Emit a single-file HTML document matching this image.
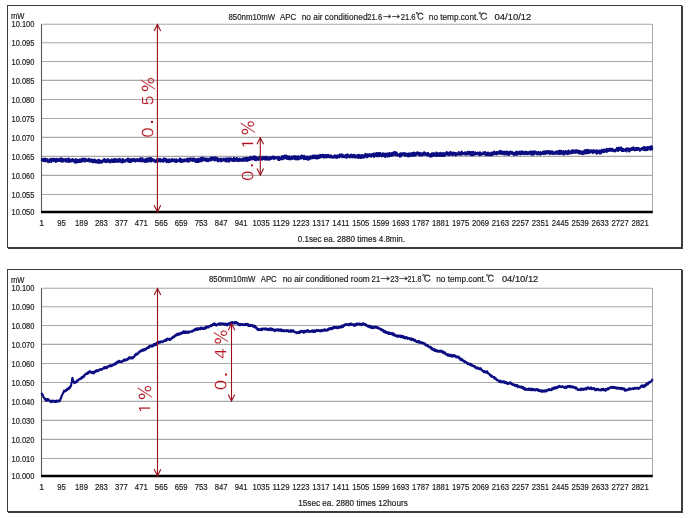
<!DOCTYPE html>
<html><head><meta charset="utf-8"><title>850nm10mW APC</title><style>
html,body{margin:0;padding:0;background:#fff;}
body{width:689px;height:518px;overflow:hidden;}
svg{display:block;}
text{font-family:"Liberation Sans","IPAGothic","Noto Sans CJK JP",sans-serif;fill:#222;stroke:#222;stroke-width:0.18px;}
tspan.j{font-family:"IPAGothic","Noto Sans CJK JP",sans-serif;font-size:9.5px;}
text.r{font-family:"IPAGothic","Noto Sans CJK JP",sans-serif;fill:#b3121f;stroke:#fff;stroke-width:0.12px;}
</style></head><body>
<svg width="689" height="518" viewBox="0 0 689 518">
<rect width="689" height="518" fill="#fff"/>
<rect x="7.5" y="5.5" width="674" height="242" fill="#fff" stroke="#3c3c3c" stroke-width="1"/>
<line x1="682.5" y1="6.0" x2="682.5" y2="249.0" stroke="#3c3c3c" stroke-width="1"/>
<line x1="8" y1="248.5" x2="683" y2="248.5" stroke="#3c3c3c" stroke-width="1"/>
<line x1="41.5" y1="24.20" x2="652.5" y2="24.20" stroke="#a9a9a9" stroke-width="1.1"/>
<line x1="41.5" y1="42.80" x2="652.5" y2="42.80" stroke="#a9a9a9" stroke-width="1.1"/>
<line x1="41.5" y1="61.50" x2="652.5" y2="61.50" stroke="#a9a9a9" stroke-width="1.1"/>
<line x1="41.5" y1="80.40" x2="652.5" y2="80.40" stroke="#a9a9a9" stroke-width="1.1"/>
<line x1="41.5" y1="99.50" x2="652.5" y2="99.50" stroke="#a9a9a9" stroke-width="1.1"/>
<line x1="41.5" y1="118.50" x2="652.5" y2="118.50" stroke="#a9a9a9" stroke-width="1.1"/>
<line x1="41.5" y1="137.40" x2="652.5" y2="137.40" stroke="#a9a9a9" stroke-width="1.1"/>
<line x1="41.5" y1="156.40" x2="652.5" y2="156.40" stroke="#a9a9a9" stroke-width="1.1"/>
<line x1="41.5" y1="175.40" x2="652.5" y2="175.40" stroke="#a9a9a9" stroke-width="1.1"/>
<line x1="41.5" y1="194.50" x2="652.5" y2="194.50" stroke="#a9a9a9" stroke-width="1.1"/>
<line x1="652.5" y1="24.20" x2="652.5" y2="212.00" stroke="#a9a9a9" stroke-width="1"/>
<line x1="41.5" y1="24.20" x2="41.5" y2="212.00" stroke="#5a5a5a" stroke-width="1.1"/>
<polyline fill="none" stroke="#0c0c82" stroke-width="2.2" stroke-linejoin="round" points="41.6,160.9 41.8,160.4 42.0,159.5 42.2,159.1 42.5,159.7 42.7,159.4 42.9,160.8 43.1,160.4 43.3,158.9 43.5,159.1 43.7,161.0 43.9,160.1 44.2,159.7 44.4,161.1 44.6,159.7 44.8,159.9 45.0,159.8 45.2,158.7 45.4,161.1 45.6,159.3 45.8,159.9 46.1,159.8 46.3,161.2 46.5,160.5 46.7,160.6 46.9,159.1 47.1,160.5 47.3,159.3 47.5,160.9 47.8,160.9 48.0,160.6 48.2,162.2 48.4,161.0 48.6,161.1 48.8,160.7 49.0,160.3 49.2,161.4 49.5,161.5 49.7,159.3 49.9,161.4 50.1,160.9 50.3,161.3 50.5,160.8 50.7,159.2 50.9,159.3 51.2,162.0 51.4,160.6 51.6,159.1 51.8,160.7 52.0,160.0 52.2,158.8 52.4,158.8 52.6,159.0 52.9,160.7 53.1,160.4 53.3,160.2 53.5,160.7 53.7,161.0 53.9,158.8 54.1,160.2 54.3,159.7 54.5,159.3 54.8,159.9 55.0,160.3 55.2,160.2 55.4,159.1 55.6,159.9 55.8,162.0 56.0,159.4 56.2,158.8 56.5,160.6 56.7,160.8 56.9,160.7 57.1,159.3 57.3,161.2 57.5,159.6 57.7,159.2 57.9,159.7 58.2,160.1 58.4,160.9 58.6,160.8 58.8,160.2 59.0,161.0 59.2,160.2 59.4,160.9 59.6,158.9 59.9,158.7 60.1,160.8 60.3,158.8 60.5,159.8 60.7,160.0 60.9,159.6 61.1,159.6 61.3,161.3 61.5,158.4 61.8,160.8 62.0,161.6 62.2,160.0 62.4,160.0 62.6,160.7 62.8,161.6 63.0,159.0 63.2,160.1 63.5,159.9 63.7,160.6 63.9,160.2 64.1,160.7 64.3,159.7 64.5,160.2 64.7,159.5 64.9,159.6 65.2,160.1 65.4,160.1 65.6,159.2 65.8,161.6 66.0,160.1 66.2,159.0 66.4,161.2 66.6,159.6 66.9,160.7 67.1,160.2 67.3,160.4 67.5,160.4 67.7,159.7 67.9,160.2 68.1,161.8 68.3,158.5 68.5,160.2 68.8,160.5 69.0,159.1 69.2,158.8 69.4,161.7 69.6,159.7 69.8,161.7 70.0,160.5 70.2,160.1 70.5,160.5 70.7,160.6 70.9,161.1 71.1,160.4 71.3,160.2 71.5,160.2 71.7,161.3 71.9,160.8 72.2,159.2 72.4,159.6 72.6,160.5 72.8,159.6 73.0,159.9 73.2,159.4 73.4,160.1 73.6,160.8 73.9,161.3 74.1,160.5 74.3,162.1 74.5,160.5 74.7,162.3 74.9,161.6 75.1,161.2 75.3,160.4 75.6,159.3 75.8,160.8 76.0,161.2 76.2,162.7 76.4,159.8 76.6,162.7 76.8,160.9 77.0,161.8 77.2,159.6 77.5,161.3 77.7,160.9 77.9,161.8 78.1,161.3 78.3,160.1 78.5,162.0 78.7,161.7 78.9,161.6 79.2,161.9 79.4,161.9 79.6,160.8 79.8,159.5 80.0,159.4 80.2,161.8 80.4,161.2 80.6,160.5 80.9,160.0 81.1,160.3 81.3,160.2 81.5,159.8 81.7,159.4 81.9,161.6 82.1,160.2 82.3,159.4 82.6,158.7 82.8,159.2 83.0,160.5 83.2,160.5 83.4,159.7 83.6,159.9 83.8,159.6 84.0,158.9 84.2,161.1 84.5,160.3 84.7,161.6 84.9,159.3 85.1,159.9 85.3,160.9 85.5,159.9 85.7,158.8 85.9,159.2 86.2,160.2 86.4,160.4 86.6,160.0 86.8,161.0 87.0,161.0 87.2,160.4 87.4,160.1 87.6,159.8 87.9,160.6 88.1,160.9 88.3,160.1 88.5,160.5 88.7,159.8 88.9,158.8 89.1,159.2 89.3,160.8 89.6,160.5 89.8,161.6 90.0,160.2 90.2,161.0 90.4,161.4 90.6,161.1 90.8,159.7 91.0,160.2 91.2,160.5 91.5,159.5 91.7,160.9 91.9,161.4 92.1,160.1 92.3,162.2 92.5,160.3 92.7,160.4 92.9,160.4 93.2,160.0 93.4,161.1 93.6,160.7 93.8,162.2 94.0,161.3 94.2,161.3 94.4,160.6 94.6,159.5 94.9,160.7 95.1,160.1 95.3,161.7 95.5,160.8 95.7,162.4 95.9,161.6 96.1,161.7 96.3,161.2 96.6,161.2 96.8,161.6 97.0,161.9 97.2,160.4 97.4,161.5 97.6,162.7 97.8,161.1 98.0,160.9 98.3,160.5 98.5,159.9 98.7,162.3 98.9,161.2 99.1,161.4 99.3,162.8 99.5,162.8 99.7,160.3 99.9,162.1 100.2,161.7 100.4,161.4 100.6,161.5 100.8,161.0 101.0,162.4 101.2,161.5 101.4,161.2 101.6,162.0 101.9,161.7 102.1,161.2 102.3,161.1 102.5,162.4 102.7,161.2 102.9,160.7 103.1,159.9 103.3,160.4 103.6,159.7 103.8,160.8 104.0,160.9 104.2,159.1 104.4,160.7 104.6,161.3 104.8,160.9 105.0,159.9 105.3,161.9 105.5,160.2 105.7,159.7 105.9,159.9 106.1,160.9 106.3,161.8 106.5,162.0 106.7,161.1 106.9,159.9 107.2,160.4 107.4,160.2 107.6,160.9 107.8,159.4 108.0,161.1 108.2,161.6 108.4,160.9 108.6,161.5 108.9,160.2 109.1,159.7 109.3,160.5 109.5,162.1 109.7,162.0 109.9,160.6 110.1,162.1 110.3,160.7 110.6,162.3 110.8,161.4 111.0,160.5 111.2,161.6 111.4,160.2 111.6,160.0 111.8,159.5 112.0,161.0 112.3,160.7 112.5,160.7 112.7,160.3 112.9,162.0 113.1,160.3 113.3,160.0 113.5,161.7 113.7,161.9 114.0,160.9 114.2,159.0 114.4,160.0 114.6,161.1 114.8,160.6 115.0,162.0 115.2,159.3 115.4,161.2 115.6,160.0 115.9,161.7 116.1,160.5 116.3,161.5 116.5,160.0 116.7,159.3 116.9,159.5 117.1,160.0 117.3,159.6 117.6,161.6 117.8,161.7 118.0,160.8 118.2,159.6 118.4,160.4 118.6,159.9 118.8,161.9 119.0,160.8 119.3,161.0 119.5,160.2 119.7,158.9 119.9,159.9 120.1,159.6 120.3,160.9 120.5,160.7 120.7,159.9 121.0,160.3 121.2,162.1 121.4,159.8 121.6,159.9 121.8,160.5 122.0,160.1 122.2,160.4 122.4,161.3 122.6,162.4 122.9,159.2 123.1,160.8 123.3,160.9 123.5,160.8 123.7,160.7 123.9,160.5 124.1,161.7 124.3,160.4 124.6,160.7 124.8,160.8 125.0,160.8 125.2,160.5 125.4,161.6 125.6,160.6 125.8,160.7 126.0,160.5 126.3,159.6 126.5,159.7 126.7,159.5 126.9,160.5 127.1,159.7 127.3,159.3 127.5,160.5 127.7,160.7 128.0,158.6 128.2,161.7 128.4,160.2 128.6,160.1 128.8,161.2 129.0,160.3 129.2,159.7 129.4,161.9 129.6,159.3 129.9,160.2 130.1,161.0 130.3,159.3 130.5,160.2 130.7,160.7 130.9,161.9 131.1,159.5 131.3,160.3 131.6,160.9 131.8,160.4 132.0,159.2 132.2,160.6 132.4,160.3 132.6,160.6 132.8,161.2 133.0,161.0 133.3,160.5 133.5,160.3 133.7,159.0 133.9,159.9 134.1,160.2 134.3,159.6 134.5,160.0 134.7,159.2 135.0,161.3 135.2,161.5 135.4,159.6 135.6,160.3 135.8,159.7 136.0,161.1 136.2,160.3 136.4,160.0 136.7,159.8 136.9,160.1 137.1,159.1 137.3,160.6 137.5,159.4 137.7,160.5 137.9,160.2 138.1,161.1 138.3,160.1 138.6,161.0 138.8,159.3 139.0,160.7 139.2,159.9 139.4,160.3 139.6,160.2 139.8,160.9 140.0,158.5 140.3,160.4 140.5,158.7 140.7,161.1 140.9,158.4 141.1,159.1 141.3,158.5 141.5,161.5 141.7,158.8 142.0,160.1 142.2,159.5 142.4,158.4 142.6,159.7 142.8,160.6 143.0,159.9 143.2,160.9 143.4,159.8 143.7,160.1 143.9,159.8 144.1,160.5 144.3,161.8 144.5,160.6 144.7,160.4 144.9,159.7 145.1,159.6 145.3,161.6 145.6,159.3 145.8,159.5 146.0,160.2 146.2,159.9 146.4,161.9 146.6,158.6 146.8,160.5 147.0,160.8 147.3,159.2 147.5,159.5 147.7,160.5 147.9,161.5 148.1,159.2 148.3,158.6 148.5,160.8 148.7,161.3 149.0,159.6 149.2,158.2 149.4,161.1 149.6,159.6 149.8,160.8 150.0,159.7 150.2,159.4 150.4,159.4 150.7,161.1 150.9,161.1 151.1,158.2 151.3,159.0 151.5,161.4 151.7,159.5 151.9,158.7 152.1,159.9 152.3,159.9 152.6,159.9 152.8,159.6 153.0,159.8 153.2,159.7 153.4,160.5 153.6,159.5 153.8,160.0 154.0,160.2 154.3,161.5 154.5,160.7 154.7,160.3 154.9,160.9 155.1,160.8 155.3,161.4 155.5,160.9 155.7,162.1 156.0,161.7 156.2,160.4 156.4,160.1 156.6,161.3 156.8,160.9 157.0,160.4 157.2,159.2 157.4,158.9 157.7,160.8 157.9,161.2 158.1,161.2 158.3,159.4 158.5,161.5 158.7,160.1 158.9,160.9 159.1,161.0 159.4,159.9 159.6,160.1 159.8,159.0 160.0,159.8 160.2,159.0 160.4,161.0 160.6,160.7 160.8,161.5 161.0,160.9 161.3,160.0 161.5,160.9 161.7,160.2 161.9,161.1 162.1,160.8 162.3,159.6 162.5,160.4 162.7,160.4 163.0,160.1 163.2,161.1 163.4,161.8 163.6,159.9 163.8,159.9 164.0,158.6 164.2,160.0 164.4,159.8 164.7,158.5 164.9,160.4 165.1,160.7 165.3,159.5 165.5,159.9 165.7,159.4 165.9,161.0 166.1,159.0 166.4,160.2 166.6,162.1 166.8,160.6 167.0,161.0 167.2,160.6 167.4,159.7 167.6,160.8 167.8,161.2 168.0,160.0 168.3,161.3 168.5,162.1 168.7,162.0 168.9,159.6 169.1,160.2 169.3,159.6 169.5,162.0 169.7,161.6 170.0,161.7 170.2,160.2 170.4,159.9 170.6,161.0 170.8,161.0 171.0,160.1 171.2,161.0 171.4,161.4 171.7,160.9 171.9,159.7 172.1,159.0 172.3,160.4 172.5,160.7 172.7,160.3 172.9,160.1 173.1,159.9 173.4,161.2 173.6,160.5 173.8,160.6 174.0,159.7 174.2,160.0 174.4,160.7 174.6,159.7 174.8,159.5 175.1,160.3 175.3,161.7 175.5,160.8 175.7,162.0 175.9,160.6 176.1,160.4 176.3,159.4 176.5,160.2 176.7,162.0 177.0,161.0 177.2,161.3 177.4,161.3 177.6,160.6 177.8,160.4 178.0,160.7 178.2,161.1 178.4,160.9 178.7,160.9 178.9,160.5 179.1,159.6 179.3,160.1 179.5,159.4 179.7,161.1 179.9,158.6 180.1,160.0 180.4,161.8 180.6,159.8 180.8,159.1 181.0,160.1 181.2,161.3 181.4,160.0 181.6,160.7 181.8,160.3 182.1,159.9 182.3,161.9 182.5,160.4 182.7,159.9 182.9,160.1 183.1,160.9 183.3,161.0 183.5,161.4 183.7,160.9 184.0,159.5 184.2,161.3 184.4,160.6 184.6,160.6 184.8,159.5 185.0,160.4 185.2,160.2 185.4,160.8 185.7,159.5 185.9,160.9 186.1,160.9 186.3,159.8 186.5,160.2 186.7,159.9 186.9,161.4 187.1,158.9 187.4,160.2 187.6,158.9 187.8,159.9 188.0,161.0 188.2,159.6 188.4,160.2 188.6,159.2 188.8,161.6 189.1,160.7 189.3,160.8 189.5,158.5 189.7,158.7 189.9,160.6 190.1,159.4 190.3,159.3 190.5,159.9 190.7,158.4 191.0,160.3 191.2,159.6 191.4,160.0 191.6,159.0 191.8,160.1 192.0,159.0 192.2,160.6 192.4,160.8 192.7,160.6 192.9,160.3 193.1,160.5 193.3,158.3 193.5,160.7 193.7,159.8 193.9,160.1 194.1,159.9 194.4,158.9 194.6,159.7 194.8,160.8 195.0,161.5 195.2,159.7 195.4,159.5 195.6,161.7 195.8,159.6 196.1,162.0 196.3,160.5 196.5,159.6 196.7,161.3 196.9,161.9 197.1,159.1 197.3,161.8 197.5,160.1 197.8,161.7 198.0,160.0 198.2,158.9 198.4,160.7 198.6,161.0 198.8,161.8 199.0,161.7 199.2,160.7 199.4,159.8 199.7,159.5 199.9,159.7 200.1,159.2 200.3,159.6 200.5,158.2 200.7,159.9 200.9,159.7 201.1,161.3 201.4,160.3 201.6,159.1 201.8,160.0 202.0,158.4 202.2,158.9 202.4,157.7 202.6,160.6 202.8,159.8 203.1,158.2 203.3,159.2 203.5,160.1 203.7,159.7 203.9,159.6 204.1,158.5 204.3,158.7 204.5,159.4 204.8,160.1 205.0,158.6 205.2,158.3 205.4,160.4 205.6,158.6 205.8,160.4 206.0,159.7 206.2,160.2 206.4,161.0 206.7,160.1 206.9,160.2 207.1,158.7 207.3,158.9 207.5,160.1 207.7,160.9 207.9,160.8 208.1,161.2 208.4,159.8 208.6,159.7 208.8,160.5 209.0,159.6 209.2,159.5 209.4,158.6 209.6,160.4 209.8,158.5 210.1,159.9 210.3,158.1 210.5,160.4 210.7,158.4 210.9,160.1 211.1,157.8 211.3,158.8 211.5,160.2 211.8,158.4 212.0,159.2 212.2,158.6 212.4,157.4 212.6,159.3 212.8,159.4 213.0,158.0 213.2,159.5 213.4,158.2 213.7,158.0 213.9,158.9 214.1,158.3 214.3,160.5 214.5,157.5 214.7,159.6 214.9,159.9 215.1,157.4 215.4,157.5 215.6,159.6 215.8,158.7 216.0,159.5 216.2,160.3 216.4,159.0 216.6,158.4 216.8,157.8 217.1,159.7 217.3,158.7 217.5,159.9 217.7,159.9 217.9,158.5 218.1,161.3 218.3,160.8 218.5,160.7 218.8,158.9 219.0,159.6 219.2,159.5 219.4,159.7 219.6,159.1 219.8,160.5 220.0,160.4 220.2,160.5 220.5,159.7 220.7,161.4 220.9,160.4 221.1,158.6 221.3,159.6 221.5,160.1 221.7,161.0 221.9,159.9 222.1,159.9 222.4,159.5 222.6,160.7 222.8,159.7 223.0,159.5 223.2,159.4 223.4,160.5 223.6,159.5 223.8,158.5 224.1,160.5 224.3,159.3 224.5,160.3 224.7,160.3 224.9,161.0 225.1,160.9 225.3,159.4 225.5,159.8 225.8,158.8 226.0,161.4 226.2,160.3 226.4,161.2 226.6,159.7 226.8,158.3 227.0,161.4 227.2,160.1 227.5,160.1 227.7,160.1 227.9,160.6 228.1,160.5 228.3,158.6 228.5,161.0 228.7,159.6 228.9,159.6 229.1,161.6 229.4,160.8 229.6,159.7 229.8,158.3 230.0,160.0 230.2,160.3 230.4,159.8 230.6,158.7 230.8,159.0 231.1,158.6 231.3,159.9 231.5,160.4 231.7,160.5 231.9,158.9 232.1,159.7 232.3,160.0 232.5,159.0 232.8,159.3 233.0,161.0 233.2,159.6 233.4,160.2 233.6,159.0 233.8,159.4 234.0,157.8 234.2,159.3 234.5,160.4 234.7,161.0 234.9,160.5 235.1,160.0 235.3,159.5 235.5,158.9 235.7,159.3 235.9,160.1 236.2,158.8 236.4,160.4 236.6,158.7 236.8,158.0 237.0,158.8 237.2,158.2 237.4,158.5 237.6,160.8 237.8,159.6 238.1,160.0 238.3,160.9 238.5,161.0 238.7,159.4 238.9,161.1 239.1,160.2 239.3,159.9 239.5,160.3 239.8,158.6 240.0,159.1 240.2,159.7 240.4,160.3 240.6,159.4 240.8,159.5 241.0,160.5 241.2,160.8 241.5,160.2 241.7,160.6 241.9,159.0 242.1,159.1 242.3,159.6 242.5,159.0 242.7,158.7 242.9,160.6 243.2,158.9 243.4,158.2 243.6,159.5 243.8,160.7 244.0,159.1 244.2,160.1 244.4,158.6 244.6,158.6 244.8,158.4 245.1,158.9 245.3,160.7 245.5,158.0 245.7,160.6 245.9,158.2 246.1,159.0 246.3,159.9 246.5,159.8 246.8,159.5 247.0,157.8 247.2,159.6 247.4,158.4 247.6,160.9 247.8,159.1 248.0,159.4 248.2,158.2 248.5,158.8 248.7,158.0 248.9,160.0 249.1,158.8 249.3,159.5 249.5,158.3 249.7,158.4 249.9,159.9 250.2,157.8 250.4,156.9 250.6,158.8 250.8,157.4 251.0,157.9 251.2,159.1 251.4,157.5 251.6,158.9 251.8,157.5 252.1,159.4 252.3,159.2 252.5,157.6 252.7,157.8 252.9,157.2 253.1,158.1 253.3,159.0 253.5,156.7 253.8,158.8 254.0,156.9 254.2,157.3 254.4,156.5 254.6,159.8 254.8,158.3 255.0,158.5 255.2,157.7 255.5,159.4 255.7,156.8 255.9,158.5 256.1,160.2 256.3,158.2 256.5,158.6 256.7,159.3 256.9,157.9 257.2,158.7 257.4,159.5 257.6,158.9 257.8,159.0 258.0,158.3 258.2,158.9 258.4,158.6 258.6,159.9 258.9,159.2 259.1,158.3 259.3,156.8 259.5,159.1 259.7,159.1 259.9,157.6 260.1,156.7 260.3,157.3 260.5,159.2 260.8,157.3 261.0,157.9 261.2,158.5 261.4,159.3 261.6,158.2 261.8,158.1 262.0,157.7 262.2,159.6 262.5,159.1 262.7,158.0 262.9,156.9 263.1,157.4 263.3,158.6 263.5,157.4 263.7,158.8 263.9,158.3 264.2,158.3 264.4,158.6 264.6,158.4 264.8,157.2 265.0,157.7 265.2,159.6 265.4,156.9 265.6,157.6 265.9,159.0 266.1,157.9 266.3,157.4 266.5,157.0 266.7,158.7 266.9,159.1 267.1,159.5 267.3,158.3 267.5,159.3 267.8,157.4 268.0,158.5 268.2,157.8 268.4,158.6 268.6,159.1 268.8,159.5 269.0,157.6 269.2,159.7 269.5,158.1 269.7,157.6 269.9,158.4 270.1,157.3 270.3,158.6 270.5,158.8 270.7,158.4 270.9,159.0 271.2,158.2 271.4,158.5 271.6,157.1 271.8,158.4 272.0,157.6 272.2,157.9 272.4,158.2 272.6,158.4 272.9,156.7 273.1,156.7 273.3,157.8 273.5,158.5 273.7,158.3 273.9,158.7 274.1,159.1 274.3,158.3 274.5,157.8 274.8,156.9 275.0,157.0 275.2,157.4 275.4,158.1 275.6,158.0 275.8,157.9 276.0,157.7 276.2,158.4 276.5,158.1 276.7,158.2 276.9,158.2 277.1,157.5 277.3,157.1 277.5,158.5 277.7,158.4 277.9,157.9 278.2,157.7 278.4,159.8 278.6,157.5 278.8,158.0 279.0,158.5 279.2,157.2 279.4,158.4 279.6,159.9 279.9,159.1 280.1,158.8 280.3,158.8 280.5,158.3 280.7,159.1 280.9,158.0 281.1,157.7 281.3,158.1 281.6,158.8 281.8,158.2 282.0,158.5 282.2,156.2 282.4,158.8 282.6,159.3 282.8,158.8 283.0,157.2 283.2,156.7 283.5,157.6 283.7,156.4 283.9,157.9 284.1,156.7 284.3,158.0 284.5,158.3 284.7,155.5 284.9,157.3 285.2,156.4 285.4,155.8 285.6,156.5 285.8,156.9 286.0,158.0 286.2,155.7 286.4,158.1 286.6,158.8 286.9,157.8 287.1,157.8 287.3,157.3 287.5,156.3 287.7,157.9 287.9,157.8 288.1,158.1 288.3,159.1 288.6,158.2 288.8,158.0 289.0,159.0 289.2,156.4 289.4,156.6 289.6,157.4 289.8,157.1 290.0,158.3 290.2,157.4 290.5,159.3 290.7,159.1 290.9,158.4 291.1,157.3 291.3,158.2 291.5,158.4 291.7,156.7 291.9,157.9 292.2,158.2 292.4,157.7 292.6,158.9 292.8,158.6 293.0,156.7 293.2,157.5 293.4,156.7 293.6,157.9 293.9,156.6 294.1,158.3 294.3,157.8 294.5,158.3 294.7,157.4 294.9,156.2 295.1,159.1 295.3,157.4 295.6,158.8 295.8,158.0 296.0,158.3 296.2,159.3 296.4,158.1 296.6,159.0 296.8,156.5 297.0,158.6 297.3,157.6 297.5,157.7 297.7,157.9 297.9,158.2 298.1,159.4 298.3,156.3 298.5,157.9 298.7,157.2 298.9,158.9 299.2,157.4 299.4,158.2 299.6,157.4 299.8,158.3 300.0,158.6 300.2,157.3 300.4,157.6 300.6,156.3 300.9,157.8 301.1,158.2 301.3,156.9 301.5,158.4 301.7,155.7 301.9,155.7 302.1,156.1 302.3,156.9 302.6,157.3 302.8,157.2 303.0,157.3 303.2,158.0 303.4,156.9 303.6,156.2 303.8,156.3 304.0,159.1 304.3,155.9 304.5,157.4 304.7,158.9 304.9,158.0 305.1,156.9 305.3,157.7 305.5,158.5 305.7,158.9 305.9,157.0 306.2,158.5 306.4,158.1 306.6,158.9 306.8,159.2 307.0,157.6 307.2,156.6 307.4,158.3 307.6,159.5 307.9,158.6 308.1,158.2 308.3,159.6 308.5,157.0 308.7,158.7 308.9,157.4 309.1,157.9 309.3,157.9 309.6,159.2 309.8,156.9 310.0,157.3 310.2,156.3 310.4,158.1 310.6,157.2 310.8,158.0 311.0,156.6 311.3,157.2 311.5,158.4 311.7,157.3 311.9,157.9 312.1,157.8 312.3,157.0 312.5,155.9 312.7,158.1 312.9,157.4 313.2,158.1 313.4,155.5 313.6,155.6 313.8,155.5 314.0,156.3 314.2,158.0 314.4,157.6 314.6,157.1 314.9,157.2 315.1,157.8 315.3,156.9 315.5,157.5 315.7,157.3 315.9,155.6 316.1,156.9 316.3,158.5 316.6,156.9 316.8,157.2 317.0,156.8 317.2,156.9 317.4,158.4 317.6,157.1 317.8,156.4 318.0,155.7 318.3,156.8 318.5,155.6 318.7,155.6 318.9,157.9 319.1,157.7 319.3,155.4 319.5,157.7 319.7,157.3 320.0,156.1 320.2,157.4 320.4,155.2 320.6,155.5 320.8,155.2 321.0,155.4 321.2,157.2 321.4,155.1 321.6,155.2 321.9,155.3 322.1,156.3 322.3,155.8 322.5,156.8 322.7,155.4 322.9,154.8 323.1,155.5 323.3,156.0 323.6,155.1 323.8,156.2 324.0,157.6 324.2,155.5 324.4,156.0 324.6,157.2 324.8,155.5 325.0,155.3 325.3,155.1 325.5,156.5 325.7,156.6 325.9,156.0 326.1,156.2 326.3,157.4 326.5,157.0 326.7,155.0 327.0,156.3 327.2,156.4 327.4,157.0 327.6,156.2 327.8,155.8 328.0,156.0 328.2,154.9 328.4,156.5 328.6,156.0 328.9,157.0 329.1,155.7 329.3,156.3 329.5,155.8 329.7,155.8 329.9,157.4 330.1,156.4 330.3,157.2 330.6,155.8 330.8,156.9 331.0,155.3 331.2,156.4 331.4,156.4 331.6,157.4 331.8,157.0 332.0,156.7 332.3,157.6 332.5,157.0 332.7,157.3 332.9,157.4 333.1,156.6 333.3,156.4 333.5,156.9 333.7,156.2 334.0,156.9 334.2,157.5 334.4,157.2 334.6,156.1 334.8,155.3 335.0,156.3 335.2,156.3 335.4,157.4 335.6,156.0 335.9,156.2 336.1,157.0 336.3,155.9 336.5,156.2 336.7,157.9 336.9,157.7 337.1,156.9 337.3,156.6 337.6,155.4 337.8,156.8 338.0,156.4 338.2,156.5 338.4,155.8 338.6,156.2 338.8,156.0 339.0,156.5 339.3,157.4 339.5,156.4 339.7,154.6 339.9,155.2 340.1,154.6 340.3,155.3 340.5,156.5 340.7,156.3 341.0,155.4 341.2,156.2 341.4,155.3 341.6,154.7 341.8,154.7 342.0,155.2 342.2,157.2 342.4,154.7 342.7,157.0 342.9,157.1 343.1,155.8 343.3,155.9 343.5,155.4 343.7,156.0 343.9,156.6 344.1,156.0 344.3,157.0 344.6,157.1 344.8,156.4 345.0,156.4 345.2,156.1 345.4,156.4 345.6,155.1 345.8,156.5 346.0,156.3 346.3,155.3 346.5,157.8 346.7,155.2 346.9,155.3 347.1,156.3 347.3,154.4 347.5,155.3 347.7,154.6 348.0,155.1 348.2,155.8 348.4,156.2 348.6,156.9 348.8,156.6 349.0,157.0 349.2,156.4 349.4,155.5 349.7,156.9 349.9,155.5 350.1,155.3 350.3,157.3 350.5,156.6 350.7,156.1 350.9,156.6 351.1,156.7 351.3,154.7 351.6,155.9 351.8,154.9 352.0,156.1 352.2,155.5 352.4,157.3 352.6,156.6 352.8,155.5 353.0,156.2 353.3,155.2 353.5,156.4 353.7,156.9 353.9,156.7 354.1,154.9 354.3,156.2 354.5,157.0 354.7,156.9 355.0,157.6 355.2,155.5 355.4,157.1 355.6,156.1 355.8,156.8 356.0,157.0 356.2,157.3 356.4,156.1 356.7,156.8 356.9,155.6 357.1,155.4 357.3,157.1 357.5,156.6 357.7,155.1 357.9,155.8 358.1,156.5 358.4,157.9 358.6,157.4 358.8,157.1 359.0,154.8 359.2,156.3 359.4,156.8 359.6,156.6 359.8,156.6 360.0,156.0 360.3,157.8 360.5,157.5 360.7,156.1 360.9,155.3 361.1,157.8 361.3,155.6 361.5,157.2 361.7,157.8 362.0,155.2 362.2,156.3 362.4,155.7 362.6,156.4 362.8,156.2 363.0,157.5 363.2,156.4 363.4,155.8 363.7,156.8 363.9,155.5 364.1,155.4 364.3,157.3 364.5,154.9 364.7,155.2 364.9,155.6 365.1,154.6 365.4,154.0 365.6,156.5 365.8,154.8 366.0,155.1 366.2,155.2 366.4,154.7 366.6,154.6 366.8,155.7 367.0,157.3 367.3,156.3 367.5,156.3 367.7,154.3 367.9,155.6 368.1,154.6 368.3,156.3 368.5,155.4 368.7,155.7 369.0,155.6 369.2,155.1 369.4,154.3 369.6,156.2 369.8,154.4 370.0,154.6 370.2,155.4 370.4,155.0 370.7,155.9 370.9,156.6 371.1,155.9 371.3,155.8 371.5,155.6 371.7,156.3 371.9,154.0 372.1,155.8 372.4,154.6 372.6,154.3 372.8,155.4 373.0,155.0 373.2,155.9 373.4,156.3 373.6,153.7 373.8,155.2 374.0,156.9 374.3,155.9 374.5,156.4 374.7,155.2 374.9,153.7 375.1,154.0 375.3,155.6 375.5,155.8 375.7,154.2 376.0,154.6 376.2,155.0 376.4,153.2 376.6,154.4 376.8,156.1 377.0,156.3 377.2,154.5 377.4,156.2 377.7,154.1 377.9,153.8 378.1,153.0 378.3,155.4 378.5,154.2 378.7,156.2 378.9,154.9 379.1,154.8 379.4,153.0 379.6,156.0 379.8,154.3 380.0,154.5 380.2,153.1 380.4,155.5 380.6,155.6 380.8,154.2 381.1,154.8 381.3,155.1 381.5,155.7 381.7,154.9 381.9,156.4 382.1,154.7 382.3,154.4 382.5,154.5 382.7,153.4 383.0,154.3 383.2,156.0 383.4,155.3 383.6,154.4 383.8,155.5 384.0,153.6 384.2,154.9 384.4,155.7 384.7,155.8 384.9,154.5 385.1,156.0 385.3,156.9 385.5,154.8 385.7,155.8 385.9,153.8 386.1,153.6 386.4,155.7 386.6,155.1 386.8,155.2 387.0,154.5 387.2,154.7 387.4,155.7 387.6,156.5 387.8,154.7 388.1,153.4 388.3,156.0 388.5,155.3 388.7,155.4 388.9,154.9 389.1,156.3 389.3,154.7 389.5,155.1 389.7,153.0 390.0,154.0 390.2,153.9 390.4,154.4 390.6,154.7 390.8,153.7 391.0,155.9 391.2,153.3 391.4,153.8 391.7,154.4 391.9,153.0 392.1,154.6 392.3,154.7 392.5,153.8 392.7,155.7 392.9,154.1 393.1,154.2 393.4,153.0 393.6,152.4 393.8,153.3 394.0,153.5 394.2,153.4 394.4,154.5 394.6,152.2 394.8,152.8 395.1,152.3 395.3,155.1 395.5,153.4 395.7,153.5 395.9,153.0 396.1,154.9 396.3,153.8 396.5,154.4 396.7,152.7 397.0,155.4 397.2,154.8 397.4,155.0 397.6,155.7 397.8,154.5 398.0,154.6 398.2,155.4 398.4,155.2 398.7,154.6 398.9,154.9 399.1,154.5 399.3,155.6 399.5,155.8 399.7,154.9 399.9,156.6 400.1,153.5 400.4,154.7 400.6,156.4 400.8,154.4 401.0,153.3 401.2,156.0 401.4,155.2 401.6,153.5 401.8,155.3 402.1,153.6 402.3,153.3 402.5,154.3 402.7,154.0 402.9,153.4 403.1,154.0 403.3,153.5 403.5,154.4 403.8,154.3 404.0,155.0 404.2,154.0 404.4,153.2 404.6,153.2 404.8,154.2 405.0,155.8 405.2,155.3 405.4,153.9 405.7,155.4 405.9,153.5 406.1,155.5 406.3,154.3 406.5,155.4 406.7,155.3 406.9,154.5 407.1,155.1 407.4,153.8 407.6,154.8 407.8,155.8 408.0,156.5 408.2,155.5 408.4,154.9 408.6,154.0 408.8,155.8 409.1,153.4 409.3,154.1 409.5,155.2 409.7,153.8 409.9,156.2 410.1,155.8 410.3,154.3 410.5,154.3 410.8,153.6 411.0,153.5 411.2,155.2 411.4,155.3 411.6,155.0 411.8,154.9 412.0,154.1 412.2,154.9 412.4,153.2 412.7,154.5 412.9,155.8 413.1,155.6 413.3,153.9 413.5,154.0 413.7,155.4 413.9,155.7 414.1,152.7 414.4,153.6 414.6,154.2 414.8,155.0 415.0,153.1 415.2,154.4 415.4,153.5 415.6,155.4 415.8,154.1 416.1,153.5 416.3,153.4 416.5,154.6 416.7,154.3 416.9,152.7 417.1,153.9 417.3,152.5 417.5,153.1 417.8,152.6 418.0,152.7 418.2,153.3 418.4,153.1 418.6,154.5 418.8,154.8 419.0,154.0 419.2,153.3 419.5,155.1 419.7,152.8 419.9,152.9 420.1,155.2 420.3,155.2 420.5,155.5 420.7,154.4 420.9,153.5 421.1,154.2 421.4,155.2 421.6,153.9 421.8,154.0 422.0,153.3 422.2,153.5 422.4,155.2 422.6,154.8 422.8,153.3 423.1,153.3 423.3,153.7 423.5,154.7 423.7,153.0 423.9,153.9 424.1,152.4 424.3,152.8 424.5,154.3 424.8,154.7 425.0,152.8 425.2,153.2 425.4,154.6 425.6,153.5 425.8,153.4 426.0,154.4 426.2,154.2 426.5,155.0 426.7,154.8 426.9,153.6 427.1,154.1 427.3,154.2 427.5,153.1 427.7,153.5 427.9,155.4 428.1,153.1 428.4,155.5 428.6,155.0 428.8,154.6 429.0,155.3 429.2,155.3 429.4,156.0 429.6,154.6 429.8,154.7 430.1,154.7 430.3,156.6 430.5,155.8 430.7,154.2 430.9,154.7 431.1,154.3 431.3,155.0 431.5,155.1 431.8,156.5 432.0,153.3 432.2,155.7 432.4,155.2 432.6,154.1 432.8,154.5 433.0,154.2 433.2,154.6 433.5,155.4 433.7,153.1 433.9,155.6 434.1,154.1 434.3,155.7 434.5,154.7 434.7,155.4 434.9,154.8 435.1,155.3 435.4,154.3 435.6,153.5 435.8,154.8 436.0,154.9 436.2,155.9 436.4,152.6 436.6,154.0 436.8,155.1 437.1,153.0 437.3,154.0 437.5,155.8 437.7,155.4 437.9,153.4 438.1,155.4 438.3,155.2 438.5,154.9 438.8,154.5 439.0,154.4 439.2,153.4 439.4,153.8 439.6,154.9 439.8,154.4 440.0,156.0 440.2,154.1 440.5,152.8 440.7,154.1 440.9,154.7 441.1,154.8 441.3,154.6 441.5,153.8 441.7,155.9 441.9,153.9 442.2,155.2 442.4,154.3 442.6,153.5 442.8,155.8 443.0,153.0 443.2,153.8 443.4,154.9 443.6,154.2 443.8,155.2 444.1,154.4 444.3,154.0 444.5,156.0 444.7,154.1 444.9,154.1 445.1,153.2 445.3,153.4 445.5,154.6 445.8,154.5 446.0,153.9 446.2,153.2 446.4,154.4 446.6,152.1 446.8,153.3 447.0,153.3 447.2,152.8 447.5,153.6 447.7,152.8 447.9,152.7 448.1,155.0 448.3,154.1 448.5,154.5 448.7,153.4 448.9,154.3 449.2,154.1 449.4,154.5 449.6,155.0 449.8,153.2 450.0,153.6 450.2,153.4 450.4,151.8 450.6,152.2 450.8,153.4 451.1,154.0 451.3,152.9 451.5,154.4 451.7,154.6 451.9,153.0 452.1,154.7 452.3,155.0 452.5,153.8 452.8,152.5 453.0,154.7 453.2,153.2 453.4,153.1 453.6,153.5 453.8,153.0 454.0,154.4 454.2,154.2 454.5,154.6 454.7,154.1 454.9,152.8 455.1,153.4 455.3,154.4 455.5,153.3 455.7,155.3 455.9,153.5 456.2,153.2 456.4,154.8 456.6,154.4 456.8,153.8 457.0,153.6 457.2,154.2 457.4,154.5 457.6,154.5 457.8,153.5 458.1,154.1 458.3,154.5 458.5,154.4 458.7,152.0 458.9,152.8 459.1,152.8 459.3,153.3 459.5,153.6 459.8,154.2 460.0,153.9 460.2,153.1 460.4,153.2 460.6,154.8 460.8,152.6 461.0,153.4 461.2,154.5 461.5,153.4 461.7,151.5 461.9,153.4 462.1,152.8 462.3,153.0 462.5,154.1 462.7,153.6 462.9,153.0 463.2,154.1 463.4,153.7 463.6,153.4 463.8,153.6 464.0,153.6 464.2,153.1 464.4,153.0 464.6,153.5 464.9,152.6 465.1,152.4 465.3,154.7 465.5,153.3 465.7,153.5 465.9,153.4 466.1,153.5 466.3,153.5 466.5,153.5 466.8,152.7 467.0,154.3 467.2,152.8 467.4,154.4 467.6,151.8 467.8,152.5 468.0,154.3 468.2,153.3 468.5,152.9 468.7,153.8 468.9,152.6 469.1,153.6 469.3,151.9 469.5,153.2 469.7,153.0 469.9,154.1 470.2,154.4 470.4,152.9 470.6,155.1 470.8,153.2 471.0,152.1 471.2,152.1 471.4,155.1 471.6,153.6 471.9,153.1 472.1,153.0 472.3,152.7 472.5,154.8 472.7,153.5 472.9,155.1 473.1,153.3 473.3,151.8 473.5,154.2 473.8,153.0 474.0,153.1 474.2,154.7 474.4,153.0 474.6,154.3 474.8,153.2 475.0,152.5 475.2,153.7 475.5,152.7 475.7,154.3 475.9,154.1 476.1,153.3 476.3,153.8 476.5,153.8 476.7,153.1 476.9,154.2 477.2,153.2 477.4,154.0 477.6,152.6 477.8,153.6 478.0,153.9 478.2,152.9 478.4,153.3 478.6,153.2 478.9,154.4 479.1,153.1 479.3,154.2 479.5,155.2 479.7,154.2 479.9,152.4 480.1,154.0 480.3,154.8 480.6,153.6 480.8,154.9 481.0,154.4 481.2,154.2 481.4,153.6 481.6,153.4 481.8,153.6 482.0,153.9 482.2,154.3 482.5,154.2 482.7,153.5 482.9,153.9 483.1,154.1 483.3,152.3 483.5,153.1 483.7,153.0 483.9,153.5 484.2,153.4 484.4,153.4 484.6,152.9 484.8,154.2 485.0,153.9 485.2,152.1 485.4,153.6 485.6,152.6 485.9,155.1 486.1,153.1 486.3,153.2 486.5,153.6 486.7,153.4 486.9,153.5 487.1,154.9 487.3,153.8 487.6,154.3 487.8,154.6 488.0,152.7 488.2,155.1 488.4,154.2 488.6,154.5 488.8,152.8 489.0,154.4 489.2,154.0 489.5,153.2 489.7,155.3 489.9,154.2 490.1,153.5 490.3,153.9 490.5,154.6 490.7,154.8 490.9,154.3 491.2,154.9 491.4,155.1 491.6,152.7 491.8,153.3 492.0,152.9 492.2,153.8 492.4,155.0 492.6,154.3 492.9,152.7 493.1,153.4 493.3,154.5 493.5,153.0 493.7,153.4 493.9,153.7 494.1,151.7 494.3,154.0 494.6,153.6 494.8,153.7 495.0,152.3 495.2,152.4 495.4,152.5 495.6,153.2 495.8,153.0 496.0,153.0 496.2,154.4 496.5,153.9 496.7,152.0 496.9,152.0 497.1,154.1 497.3,152.3 497.5,153.8 497.7,153.9 497.9,152.0 498.2,152.2 498.4,152.5 498.6,151.7 498.8,151.6 499.0,152.1 499.2,153.2 499.4,152.1 499.6,152.3 499.9,152.1 500.1,151.3 500.3,153.8 500.5,150.9 500.7,151.9 500.9,153.0 501.1,151.3 501.3,153.1 501.6,153.7 501.8,151.8 502.0,152.8 502.2,151.7 502.4,153.1 502.6,152.8 502.8,152.9 503.0,154.0 503.3,153.2 503.5,154.1 503.7,153.5 503.9,151.8 504.1,153.2 504.3,153.5 504.5,151.8 504.7,154.3 504.9,153.2 505.2,153.5 505.4,152.4 505.6,153.3 505.8,153.5 506.0,153.0 506.2,153.4 506.4,151.7 506.6,154.5 506.9,152.3 507.1,151.7 507.3,152.4 507.5,152.5 507.7,153.8 507.9,152.4 508.1,153.5 508.3,152.3 508.6,154.8 508.8,153.7 509.0,154.8 509.2,152.2 509.4,153.7 509.6,152.3 509.8,153.6 510.0,153.7 510.3,151.7 510.5,152.1 510.7,152.1 510.9,151.8 511.1,152.5 511.3,152.4 511.5,152.0 511.7,153.4 511.9,153.8 512.2,152.1 512.4,152.9 512.6,153.4 512.8,153.2 513.0,152.8 513.2,154.2 513.4,154.3 513.6,154.1 513.9,153.3 514.1,155.1 514.3,155.1 514.5,153.2 514.7,153.4 514.9,154.6 515.1,152.7 515.3,153.8 515.6,153.4 515.8,152.7 516.0,153.1 516.2,151.9 516.4,152.8 516.6,151.6 516.8,154.8 517.0,154.5 517.3,154.2 517.5,153.4 517.7,154.0 517.9,154.2 518.1,153.9 518.3,153.8 518.5,152.2 518.7,153.4 518.9,152.5 519.2,151.9 519.4,151.9 519.6,153.3 519.8,153.9 520.0,151.7 520.2,154.5 520.4,154.3 520.6,152.6 520.9,152.6 521.1,152.9 521.3,153.9 521.5,152.6 521.7,152.0 521.9,153.3 522.1,151.3 522.3,153.1 522.6,154.0 522.8,153.2 523.0,153.6 523.2,153.3 523.4,153.5 523.6,153.0 523.8,152.1 524.0,152.6 524.3,152.7 524.5,153.8 524.7,154.1 524.9,153.0 525.1,151.9 525.3,151.9 525.5,152.4 525.7,153.8 526.0,152.8 526.2,152.5 526.4,151.8 526.6,153.3 526.8,152.8 527.0,152.5 527.2,152.6 527.4,154.1 527.6,152.4 527.9,154.1 528.1,153.8 528.3,152.8 528.5,153.6 528.7,152.7 528.9,152.1 529.1,152.7 529.3,152.2 529.6,153.5 529.8,153.1 530.0,153.7 530.2,154.0 530.4,151.6 530.6,153.6 530.8,151.7 531.0,153.5 531.3,152.6 531.5,153.5 531.7,154.6 531.9,151.8 532.1,153.5 532.3,153.3 532.5,151.7 532.7,153.8 533.0,153.3 533.2,152.7 533.4,152.5 533.6,154.7 533.8,152.7 534.0,151.4 534.2,152.2 534.4,152.6 534.6,152.6 534.9,152.8 535.1,152.0 535.3,153.4 535.5,152.4 535.7,151.6 535.9,152.1 536.1,152.5 536.3,153.6 536.6,153.3 536.8,152.5 537.0,152.9 537.2,153.1 537.4,154.5 537.6,152.4 537.8,153.4 538.0,153.6 538.3,152.1 538.5,153.2 538.7,153.2 538.9,152.6 539.1,153.6 539.3,154.0 539.5,154.1 539.7,152.9 540.0,153.2 540.2,154.6 540.4,152.0 540.6,153.2 540.8,153.8 541.0,153.1 541.2,153.5 541.4,153.0 541.7,153.5 541.9,153.9 542.1,152.5 542.3,152.9 542.5,152.6 542.7,152.2 542.9,152.5 543.1,151.5 543.3,153.2 543.6,154.0 543.8,154.0 544.0,153.5 544.2,151.5 544.4,153.7 544.6,151.7 544.8,152.3 545.0,153.9 545.3,151.4 545.5,153.1 545.7,152.6 545.9,152.2 546.1,151.6 546.3,152.8 546.5,152.0 546.7,153.4 547.0,153.5 547.2,151.2 547.4,152.0 547.6,152.2 547.8,151.4 548.0,151.5 548.2,152.6 548.4,152.4 548.7,151.1 548.9,152.1 549.1,153.1 549.3,151.6 549.5,151.9 549.7,154.2 549.9,153.9 550.1,151.3 550.3,151.6 550.6,153.2 550.8,151.8 551.0,152.7 551.2,152.5 551.4,153.5 551.6,151.4 551.8,151.4 552.0,151.9 552.3,153.9 552.5,152.9 552.7,151.5 552.9,153.5 553.1,153.7 553.3,152.8 553.5,152.7 553.7,153.4 554.0,154.1 554.2,153.1 554.4,153.4 554.6,152.9 554.8,152.6 555.0,152.1 555.2,153.1 555.4,152.6 555.7,152.6 555.9,153.6 556.1,153.2 556.3,153.5 556.5,151.3 556.7,153.1 556.9,152.1 557.1,151.8 557.3,151.8 557.6,153.6 557.8,153.2 558.0,151.8 558.2,151.4 558.4,152.4 558.6,151.9 558.8,153.8 559.0,151.0 559.3,150.7 559.5,152.1 559.7,152.3 559.9,152.4 560.1,153.0 560.3,153.9 560.5,152.0 560.7,151.8 561.0,150.8 561.2,152.6 561.4,153.2 561.6,152.2 561.8,153.5 562.0,152.5 562.2,153.9 562.4,152.9 562.7,151.7 562.9,152.1 563.1,151.3 563.3,151.2 563.5,153.0 563.7,153.6 563.9,154.5 564.1,152.8 564.4,152.6 564.6,151.9 564.8,153.7 565.0,153.2 565.2,152.3 565.4,153.4 565.6,153.2 565.8,151.0 566.0,153.3 566.3,152.7 566.5,152.2 566.7,152.1 566.9,154.0 567.1,153.8 567.3,154.0 567.5,151.3 567.7,151.7 568.0,153.1 568.2,151.1 568.4,151.6 568.6,150.6 568.8,153.8 569.0,153.1 569.2,152.6 569.4,152.3 569.7,151.8 569.9,151.8 570.1,152.7 570.3,151.5 570.5,153.2 570.7,151.7 570.9,151.3 571.1,153.3 571.4,152.0 571.6,152.6 571.8,151.7 572.0,150.4 572.2,152.5 572.4,150.8 572.6,153.0 572.8,150.6 573.0,150.4 573.3,152.2 573.5,152.3 573.7,152.0 573.9,150.8 574.1,152.7 574.3,150.5 574.5,151.4 574.7,151.1 575.0,151.5 575.2,152.6 575.4,151.2 575.6,152.3 575.8,152.5 576.0,150.3 576.2,150.8 576.4,151.6 576.7,151.4 576.9,152.2 577.1,150.4 577.3,152.7 577.5,152.7 577.7,152.0 577.9,150.9 578.1,152.2 578.4,151.7 578.6,152.8 578.8,152.2 579.0,153.0 579.2,152.0 579.4,153.7 579.6,150.8 579.8,151.5 580.0,152.9 580.3,151.1 580.5,153.2 580.7,151.4 580.9,152.6 581.1,151.7 581.3,152.1 581.5,152.7 581.7,152.4 582.0,152.2 582.2,154.1 582.4,152.5 582.6,151.5 582.8,153.2 583.0,153.1 583.2,153.4 583.4,153.8 583.7,151.3 583.9,153.1 584.1,153.1 584.3,152.0 584.5,152.2 584.7,150.3 584.9,151.3 585.1,153.4 585.4,150.1 585.6,151.2 585.8,151.9 586.0,152.1 586.2,153.1 586.4,150.0 586.6,151.6 586.8,152.3 587.1,150.3 587.3,151.4 587.5,153.1 587.7,152.6 587.9,151.9 588.1,149.8 588.3,151.3 588.5,151.7 588.7,151.1 589.0,151.3 589.2,153.0 589.4,151.2 589.6,150.5 589.8,151.6 590.0,151.1 590.2,151.1 590.4,151.3 590.7,152.0 590.9,151.6 591.1,150.3 591.3,151.2 591.5,151.8 591.7,150.9 591.9,152.4 592.1,152.0 592.4,150.5 592.6,151.6 592.8,153.0 593.0,152.8 593.2,151.4 593.4,152.3 593.6,150.9 593.8,150.2 594.1,152.0 594.3,151.8 594.5,152.1 594.7,151.6 594.9,152.0 595.1,151.3 595.3,152.2 595.5,152.6 595.7,151.8 596.0,152.6 596.2,150.3 596.4,151.3 596.6,153.3 596.8,153.6 597.0,152.3 597.2,152.0 597.4,150.9 597.7,152.4 597.9,152.8 598.1,150.8 598.3,152.6 598.5,152.5 598.7,152.4 598.9,151.0 599.1,152.5 599.4,150.6 599.6,153.3 599.8,152.0 600.0,150.8 600.2,153.1 600.4,152.9 600.6,151.2 600.8,153.3 601.1,150.8 601.3,151.9 601.5,152.6 601.7,149.9 601.9,152.3 602.1,151.3 602.3,151.3 602.5,150.3 602.8,151.5 603.0,150.1 603.2,150.1 603.4,150.5 603.6,149.8 603.8,152.2 604.0,149.6 604.2,150.0 604.4,150.4 604.7,150.6 604.9,151.3 605.1,151.3 605.3,150.3 605.5,150.1 605.7,150.5 605.9,151.2 606.1,151.1 606.4,149.9 606.6,148.8 606.8,152.0 607.0,151.2 607.2,150.6 607.4,150.7 607.6,149.9 607.8,149.5 608.1,150.1 608.3,150.2 608.5,149.8 608.7,149.1 608.9,150.1 609.1,150.9 609.3,149.9 609.5,150.4 609.8,148.8 610.0,150.2 610.2,150.3 610.4,149.2 610.6,148.8 610.8,150.7 611.0,149.6 611.2,150.7 611.4,149.9 611.7,150.8 611.9,149.9 612.1,148.8 612.3,150.1 612.5,149.9 612.7,150.7 612.9,149.7 613.1,149.7 613.4,150.8 613.6,151.1 613.8,150.7 614.0,150.9 614.2,150.4 614.4,150.6 614.6,150.7 614.8,150.2 615.1,149.9 615.3,150.0 615.5,151.4 615.7,149.8 615.9,149.5 616.1,149.4 616.3,149.7 616.5,149.9 616.8,148.6 617.0,148.0 617.2,149.8 617.4,148.1 617.6,149.7 617.8,149.6 618.0,150.5 618.2,150.9 618.4,149.7 618.7,148.8 618.9,148.2 619.1,148.6 619.3,149.3 619.5,147.6 619.7,149.3 619.9,149.2 620.1,149.8 620.4,148.9 620.6,149.3 620.8,148.6 621.0,148.9 621.2,147.7 621.4,149.5 621.6,150.8 621.8,149.6 622.1,149.8 622.3,148.7 622.5,150.9 622.7,149.0 622.9,150.5 623.1,149.9 623.3,149.0 623.5,150.9 623.8,150.0 624.0,150.2 624.2,150.5 624.4,150.1 624.6,149.8 624.8,150.6 625.0,149.9 625.2,150.3 625.5,149.7 625.7,148.9 625.9,149.7 626.1,149.8 626.3,150.2 626.5,151.3 626.7,148.6 626.9,150.2 627.1,148.5 627.4,149.1 627.6,149.6 627.8,148.3 628.0,148.3 628.2,150.0 628.4,149.9 628.6,149.7 628.8,149.0 629.1,151.3 629.3,149.5 629.5,148.8 629.7,151.0 629.9,150.0 630.1,149.1 630.3,150.4 630.5,149.5 630.8,149.9 631.0,149.4 631.2,148.3 631.4,150.0 631.6,149.2 631.8,148.1 632.0,148.3 632.2,149.8 632.5,148.6 632.7,148.9 632.9,149.4 633.1,148.9 633.3,147.4 633.5,149.3 633.7,149.6 633.9,149.5 634.1,150.1 634.4,148.9 634.6,149.3 634.8,150.0 635.0,148.3 635.2,150.1 635.4,150.1 635.6,149.2 635.8,150.2 636.1,149.3 636.3,147.8 636.5,149.6 636.7,148.9 636.9,149.0 637.1,148.7 637.3,149.8 637.5,149.1 637.8,148.0 638.0,149.1 638.2,149.4 638.4,148.1 638.6,148.4 638.8,148.5 639.0,148.3 639.2,149.2 639.5,149.9 639.7,150.6 639.9,150.1 640.1,150.0 640.3,150.1 640.5,150.3 640.7,148.8 640.9,149.7 641.1,149.4 641.4,149.0 641.6,148.7 641.8,148.6 642.0,148.8 642.2,147.9 642.4,149.4 642.6,148.9 642.8,149.0 643.1,149.2 643.3,149.5 643.5,148.3 643.7,148.7 643.9,147.3 644.1,147.1 644.3,147.1 644.5,150.1 644.8,147.0 645.0,149.1 645.2,149.9 645.4,148.2 645.6,150.0 645.8,150.1 646.0,149.3 646.2,150.1 646.5,149.0 646.7,147.7 646.9,148.8 647.1,147.9 647.3,147.1 647.5,147.1 647.7,149.9 647.9,147.8 648.2,148.2 648.4,147.6 648.6,148.3 648.8,148.0 649.0,147.8 649.2,147.0 649.4,146.8 649.6,147.4 649.8,148.3 650.1,149.6 650.3,149.0 650.5,149.6 650.7,148.4 650.9,147.9 651.1,146.7 651.3,147.9 651.5,146.2 651.8,147.6 652.0,149.3 652.2,148.1 652.4,148.8"/>
<line x1="41.0" y1="212.00" x2="652.8" y2="212.00" stroke="#000" stroke-width="2.4"/>
<g stroke="#9b0f1a" stroke-width="1.1" fill="none">
<line x1="157.4" y1="24.2" x2="157.4" y2="212.0"/>
<polyline points="154.1,31.0 157.4,24.5 160.7,31.0"/>
<polyline points="154.1,205.2 157.4,211.7 160.7,205.2"/>
</g>
<g stroke="#9b0f1a" stroke-width="1.1" fill="none">
<line x1="260.3" y1="137.4" x2="260.3" y2="175.4"/>
<polyline points="257.0,144.2 260.3,137.7 263.6,144.2"/>
<polyline points="257.0,168.6 260.3,175.1 263.6,168.6"/>
</g>
<text class="r" transform="translate(153.5 108.4) rotate(-90)" text-anchor="middle" font-size="16">０<tspan dy="-0.8">．</tspan><tspan dy="0.8">５％</tspan></text>
<text class="r" transform="translate(253.7 151.8) rotate(-90)" text-anchor="middle" font-size="16">０<tspan dy="-0.8">．</tspan><tspan dy="0.8">１％</tspan></text>
<text x="34.4" y="27.3" font-size="8.3" text-anchor="end" textLength="22.9" lengthAdjust="spacingAndGlyphs">10.100</text>
<text x="34.4" y="45.9" font-size="8.3" text-anchor="end" textLength="22.9" lengthAdjust="spacingAndGlyphs">10.095</text>
<text x="34.4" y="64.6" font-size="8.3" text-anchor="end" textLength="22.9" lengthAdjust="spacingAndGlyphs">10.090</text>
<text x="34.4" y="83.5" font-size="8.3" text-anchor="end" textLength="22.9" lengthAdjust="spacingAndGlyphs">10.085</text>
<text x="34.4" y="102.6" font-size="8.3" text-anchor="end" textLength="22.9" lengthAdjust="spacingAndGlyphs">10.080</text>
<text x="34.4" y="121.6" font-size="8.3" text-anchor="end" textLength="22.9" lengthAdjust="spacingAndGlyphs">10.075</text>
<text x="34.4" y="140.5" font-size="8.3" text-anchor="end" textLength="22.9" lengthAdjust="spacingAndGlyphs">10.070</text>
<text x="34.4" y="159.5" font-size="8.3" text-anchor="end" textLength="22.9" lengthAdjust="spacingAndGlyphs">10.065</text>
<text x="34.4" y="178.5" font-size="8.3" text-anchor="end" textLength="22.9" lengthAdjust="spacingAndGlyphs">10.060</text>
<text x="34.4" y="197.6" font-size="8.3" text-anchor="end" textLength="22.9" lengthAdjust="spacingAndGlyphs">10.055</text>
<text x="34.4" y="215.1" font-size="8.3" text-anchor="end" textLength="22.9" lengthAdjust="spacingAndGlyphs">10.050</text>
<text x="11.0" y="18.7" font-size="8.3" textLength="13.4" lengthAdjust="spacingAndGlyphs">mW</text>
<text x="41.6" y="225.9" font-size="8.7" text-anchor="middle">1</text>
<text x="61.5" y="225.9" font-size="8.7" text-anchor="middle" textLength="8.6" lengthAdjust="spacingAndGlyphs">95</text>
<text x="81.5" y="225.9" font-size="8.7" text-anchor="middle" textLength="12.9" lengthAdjust="spacingAndGlyphs">189</text>
<text x="101.4" y="225.9" font-size="8.7" text-anchor="middle" textLength="12.9" lengthAdjust="spacingAndGlyphs">283</text>
<text x="121.4" y="225.9" font-size="8.7" text-anchor="middle" textLength="12.9" lengthAdjust="spacingAndGlyphs">377</text>
<text x="141.3" y="225.9" font-size="8.7" text-anchor="middle" textLength="12.9" lengthAdjust="spacingAndGlyphs">471</text>
<text x="161.3" y="225.9" font-size="8.7" text-anchor="middle" textLength="12.9" lengthAdjust="spacingAndGlyphs">565</text>
<text x="181.2" y="225.9" font-size="8.7" text-anchor="middle" textLength="12.9" lengthAdjust="spacingAndGlyphs">659</text>
<text x="201.2" y="225.9" font-size="8.7" text-anchor="middle" textLength="12.9" lengthAdjust="spacingAndGlyphs">753</text>
<text x="221.1" y="225.9" font-size="8.7" text-anchor="middle" textLength="12.9" lengthAdjust="spacingAndGlyphs">847</text>
<text x="241.1" y="225.9" font-size="8.7" text-anchor="middle" textLength="12.9" lengthAdjust="spacingAndGlyphs">941</text>
<text x="261.1" y="225.9" font-size="8.7" text-anchor="middle" textLength="17.2" lengthAdjust="spacingAndGlyphs">1035</text>
<text x="281.0" y="225.9" font-size="8.7" text-anchor="middle" textLength="17.2" lengthAdjust="spacingAndGlyphs">1129</text>
<text x="300.9" y="225.9" font-size="8.7" text-anchor="middle" textLength="17.2" lengthAdjust="spacingAndGlyphs">1223</text>
<text x="320.9" y="225.9" font-size="8.7" text-anchor="middle" textLength="17.2" lengthAdjust="spacingAndGlyphs">1317</text>
<text x="340.9" y="225.9" font-size="8.7" text-anchor="middle" textLength="17.2" lengthAdjust="spacingAndGlyphs">1411</text>
<text x="360.8" y="225.9" font-size="8.7" text-anchor="middle" textLength="17.2" lengthAdjust="spacingAndGlyphs">1505</text>
<text x="380.8" y="225.9" font-size="8.7" text-anchor="middle" textLength="17.2" lengthAdjust="spacingAndGlyphs">1599</text>
<text x="400.7" y="225.9" font-size="8.7" text-anchor="middle" textLength="17.2" lengthAdjust="spacingAndGlyphs">1693</text>
<text x="420.7" y="225.9" font-size="8.7" text-anchor="middle" textLength="17.2" lengthAdjust="spacingAndGlyphs">1787</text>
<text x="440.6" y="225.9" font-size="8.7" text-anchor="middle" textLength="17.2" lengthAdjust="spacingAndGlyphs">1881</text>
<text x="460.6" y="225.9" font-size="8.7" text-anchor="middle" textLength="17.2" lengthAdjust="spacingAndGlyphs">1975</text>
<text x="480.5" y="225.9" font-size="8.7" text-anchor="middle" textLength="17.2" lengthAdjust="spacingAndGlyphs">2069</text>
<text x="500.4" y="225.9" font-size="8.7" text-anchor="middle" textLength="17.2" lengthAdjust="spacingAndGlyphs">2163</text>
<text x="520.4" y="225.9" font-size="8.7" text-anchor="middle" textLength="17.2" lengthAdjust="spacingAndGlyphs">2257</text>
<text x="540.4" y="225.9" font-size="8.7" text-anchor="middle" textLength="17.2" lengthAdjust="spacingAndGlyphs">2351</text>
<text x="560.3" y="225.9" font-size="8.7" text-anchor="middle" textLength="17.2" lengthAdjust="spacingAndGlyphs">2445</text>
<text x="580.2" y="225.9" font-size="8.7" text-anchor="middle" textLength="17.2" lengthAdjust="spacingAndGlyphs">2539</text>
<text x="600.2" y="225.9" font-size="8.7" text-anchor="middle" textLength="17.2" lengthAdjust="spacingAndGlyphs">2633</text>
<text x="620.1" y="225.9" font-size="8.7" text-anchor="middle" textLength="17.2" lengthAdjust="spacingAndGlyphs">2727</text>
<text x="640.1" y="225.9" font-size="8.7" text-anchor="middle" textLength="17.2" lengthAdjust="spacingAndGlyphs">2821</text>
<rect x="7.5" y="269.5" width="674" height="242" fill="#fff" stroke="#3c3c3c" stroke-width="1"/>
<line x1="682.5" y1="270.0" x2="682.5" y2="513.0" stroke="#3c3c3c" stroke-width="1"/>
<line x1="8" y1="512.5" x2="683" y2="512.5" stroke="#3c3c3c" stroke-width="1"/>
<line x1="41.5" y1="288.20" x2="652.5" y2="288.20" stroke="#a9a9a9" stroke-width="1.1"/>
<line x1="41.5" y1="306.80" x2="652.5" y2="306.80" stroke="#a9a9a9" stroke-width="1.1"/>
<line x1="41.5" y1="325.50" x2="652.5" y2="325.50" stroke="#a9a9a9" stroke-width="1.1"/>
<line x1="41.5" y1="344.40" x2="652.5" y2="344.40" stroke="#a9a9a9" stroke-width="1.1"/>
<line x1="41.5" y1="363.50" x2="652.5" y2="363.50" stroke="#a9a9a9" stroke-width="1.1"/>
<line x1="41.5" y1="382.50" x2="652.5" y2="382.50" stroke="#a9a9a9" stroke-width="1.1"/>
<line x1="41.5" y1="401.40" x2="652.5" y2="401.40" stroke="#a9a9a9" stroke-width="1.1"/>
<line x1="41.5" y1="420.40" x2="652.5" y2="420.40" stroke="#a9a9a9" stroke-width="1.1"/>
<line x1="41.5" y1="439.40" x2="652.5" y2="439.40" stroke="#a9a9a9" stroke-width="1.1"/>
<line x1="41.5" y1="458.50" x2="652.5" y2="458.50" stroke="#a9a9a9" stroke-width="1.1"/>
<line x1="652.5" y1="288.20" x2="652.5" y2="476.00" stroke="#a9a9a9" stroke-width="1"/>
<line x1="41.5" y1="288.20" x2="41.5" y2="476.00" stroke="#5a5a5a" stroke-width="1.1"/>
<polyline fill="none" stroke="#0c0c82" stroke-width="2.1" stroke-linejoin="round" points="41.6,392.8 41.8,393.7 42.0,394.1 42.2,394.6 42.5,394.4 42.7,394.9 42.9,395.4 43.1,396.1 43.3,396.1 43.5,397.3 43.7,397.3 43.9,398.0 44.2,398.0 44.4,398.5 44.6,398.2 44.8,398.6 45.0,398.5 45.2,399.2 45.4,399.5 45.6,400.2 45.8,399.4 46.1,400.9 46.3,400.0 46.5,400.6 46.7,400.4 46.9,399.1 47.1,399.8 47.3,400.5 47.5,399.1 47.8,400.2 48.0,399.4 48.2,399.7 48.4,400.0 48.6,399.2 48.8,400.2 49.0,400.0 49.2,400.1 49.5,400.9 49.7,401.5 49.9,401.0 50.1,401.2 50.3,401.1 50.5,400.9 50.7,401.4 50.9,402.0 51.2,401.4 51.4,401.8 51.6,401.3 51.8,402.2 52.0,400.6 52.2,401.6 52.4,401.6 52.6,401.5 52.9,400.9 53.1,400.9 53.3,401.4 53.5,401.5 53.7,400.9 53.9,400.9 54.1,401.6 54.3,401.8 54.5,401.0 54.8,400.9 55.0,400.9 55.2,402.0 55.4,401.4 55.6,401.2 55.8,401.7 56.0,402.1 56.2,401.8 56.5,400.6 56.7,401.3 56.9,401.1 57.1,401.2 57.3,400.8 57.5,401.1 57.7,400.8 57.9,401.4 58.2,401.3 58.4,400.6 58.6,400.5 58.8,401.0 59.0,401.5 59.2,401.5 59.4,401.2 59.6,400.4 59.9,400.8 60.1,400.1 60.3,399.7 60.5,398.7 60.7,398.5 60.9,397.8 61.1,398.4 61.3,397.3 61.5,396.4 61.8,395.9 62.0,395.4 62.2,395.0 62.4,394.3 62.6,394.0 62.8,394.0 63.0,393.4 63.2,392.7 63.5,392.6 63.7,391.7 63.9,391.1 64.1,390.6 64.3,390.9 64.5,391.1 64.7,391.2 64.9,391.4 65.2,390.5 65.4,390.3 65.6,390.9 65.8,390.9 66.0,390.0 66.2,390.3 66.4,390.6 66.6,390.0 66.9,389.7 67.1,388.8 67.3,390.0 67.5,389.6 67.7,389.2 67.9,388.8 68.1,388.3 68.3,388.6 68.5,388.4 68.8,388.8 69.0,387.6 69.2,388.6 69.4,387.8 69.6,388.1 69.8,386.9 70.0,387.2 70.2,387.4 70.5,386.7 70.7,385.8 70.9,386.1 71.1,385.7 71.3,383.9 71.5,383.0 71.7,382.9 71.9,380.8 72.2,379.5 72.4,377.7 72.6,378.3 72.8,379.6 73.0,381.4 73.2,380.7 73.4,381.4 73.6,381.8 73.9,381.6 74.1,382.8 74.3,382.6 74.5,383.1 74.7,382.4 74.9,382.1 75.1,381.9 75.3,382.4 75.6,382.2 75.8,382.4 76.0,382.5 76.2,381.6 76.4,381.4 76.6,381.5 76.8,381.8 77.0,380.6 77.2,381.1 77.5,380.5 77.7,380.3 77.9,380.7 78.1,379.8 78.3,379.5 78.5,380.1 78.7,379.7 78.9,379.4 79.2,379.3 79.4,379.4 79.6,378.9 79.8,379.2 80.0,378.9 80.2,379.2 80.4,379.0 80.6,378.6 80.9,378.0 81.1,378.0 81.3,377.6 81.5,378.6 81.7,377.5 81.9,377.8 82.1,378.0 82.3,376.7 82.6,376.9 82.8,377.0 83.0,376.6 83.2,376.3 83.4,376.5 83.6,377.2 83.8,376.7 84.0,376.2 84.2,375.9 84.5,374.9 84.7,375.7 84.9,375.4 85.1,374.4 85.3,374.8 85.5,374.4 85.7,374.0 85.9,373.6 86.2,373.6 86.4,373.3 86.6,373.9 86.8,373.7 87.0,373.6 87.2,373.3 87.4,373.1 87.6,373.9 87.9,372.2 88.1,373.4 88.3,372.9 88.5,372.6 88.7,372.2 88.9,372.2 89.1,371.6 89.3,371.4 89.6,372.0 89.8,371.4 90.0,372.5 90.2,372.6 90.4,371.3 90.6,371.4 90.8,372.2 91.0,372.2 91.2,372.2 91.5,372.3 91.7,372.5 91.9,372.6 92.1,373.1 92.3,372.4 92.5,372.9 92.7,371.9 92.9,372.6 93.2,372.1 93.4,373.2 93.6,373.4 93.8,372.7 94.0,371.7 94.2,372.2 94.4,372.1 94.6,372.0 94.9,372.3 95.1,372.0 95.3,370.7 95.5,372.0 95.7,371.0 95.9,370.9 96.1,371.6 96.3,370.8 96.6,370.2 96.8,370.1 97.0,370.7 97.2,371.0 97.4,371.2 97.6,370.4 97.8,370.3 98.0,371.2 98.3,370.2 98.5,371.0 98.7,370.4 98.9,370.3 99.1,370.0 99.3,370.1 99.5,369.6 99.7,369.4 99.9,369.5 100.2,369.2 100.4,369.5 100.6,369.3 100.8,369.1 101.0,369.1 101.2,369.0 101.4,369.9 101.6,369.0 101.9,368.7 102.1,368.8 102.3,369.2 102.5,368.8 102.7,368.7 102.9,368.6 103.1,368.6 103.3,368.6 103.6,368.5 103.8,367.5 104.0,367.6 104.2,367.2 104.4,368.3 104.6,368.4 104.8,368.4 105.0,367.8 105.3,368.2 105.5,367.6 105.7,367.6 105.9,366.9 106.1,367.2 106.3,367.3 106.5,367.9 106.7,368.2 106.9,367.2 107.2,367.6 107.4,367.5 107.6,366.9 107.8,366.4 108.0,366.7 108.2,366.2 108.4,366.6 108.6,366.5 108.9,366.3 109.1,366.2 109.3,366.4 109.5,365.6 109.7,366.4 109.9,365.2 110.1,366.0 110.3,366.1 110.6,365.6 110.8,365.2 111.0,366.2 111.2,365.6 111.4,366.2 111.6,366.1 111.8,365.6 112.0,365.5 112.3,365.8 112.5,365.4 112.7,364.7 112.9,365.1 113.1,365.1 113.3,364.8 113.5,364.8 113.7,364.5 114.0,364.4 114.2,364.0 114.4,363.7 114.6,364.7 114.8,363.8 115.0,364.1 115.2,363.2 115.4,363.8 115.6,363.2 115.9,364.2 116.1,362.8 116.3,362.7 116.5,363.4 116.7,363.4 116.9,361.9 117.1,362.7 117.3,362.8 117.6,361.7 117.8,362.4 118.0,361.7 118.2,361.4 118.4,361.5 118.6,361.4 118.8,360.8 119.0,362.2 119.3,361.1 119.5,360.9 119.7,361.6 119.9,361.2 120.1,361.9 120.3,361.3 120.5,361.6 120.7,361.5 121.0,361.6 121.2,361.5 121.4,361.5 121.6,362.3 121.8,361.2 122.0,361.2 122.2,361.3 122.4,361.6 122.6,361.4 122.9,361.5 123.1,360.4 123.3,360.9 123.5,360.6 123.7,360.4 123.9,360.5 124.1,359.6 124.3,360.4 124.6,360.3 124.8,359.5 125.0,360.0 125.2,360.7 125.4,359.8 125.6,360.2 125.8,359.7 126.0,359.4 126.3,359.3 126.5,359.5 126.7,360.2 126.9,359.9 127.1,359.2 127.3,359.8 127.5,359.2 127.7,358.8 128.0,359.2 128.2,358.4 128.4,358.0 128.6,359.1 128.8,357.6 129.0,358.6 129.2,357.6 129.4,358.2 129.6,358.0 129.9,357.9 130.1,357.3 130.3,358.0 130.5,358.1 130.7,357.7 130.9,358.1 131.1,358.5 131.3,357.7 131.6,358.1 131.8,357.3 132.0,357.9 132.2,358.0 132.4,358.5 132.6,358.0 132.8,357.7 133.0,358.1 133.3,356.9 133.5,357.6 133.7,356.7 133.9,356.5 134.1,357.1 134.3,356.4 134.5,356.6 134.7,355.1 135.0,355.6 135.2,355.0 135.4,354.9 135.6,354.0 135.8,355.0 136.0,354.5 136.2,353.8 136.4,353.6 136.7,353.7 136.9,354.6 137.1,353.9 137.3,353.7 137.5,353.9 137.7,353.6 137.9,353.5 138.1,353.6 138.3,353.2 138.6,353.2 138.8,352.1 139.0,352.4 139.2,352.0 139.4,352.0 139.6,351.7 139.8,351.3 140.0,351.2 140.3,351.7 140.5,350.9 140.7,350.5 140.9,351.2 141.1,351.3 141.3,350.6 141.5,350.7 141.7,350.1 142.0,350.3 142.2,350.8 142.4,350.6 142.6,350.2 142.8,350.0 143.0,349.3 143.2,350.1 143.4,350.1 143.7,350.3 143.9,350.6 144.1,349.8 144.3,350.0 144.5,349.0 144.7,350.0 144.9,349.8 145.1,349.9 145.3,349.5 145.6,349.3 145.8,349.6 146.0,348.6 146.2,349.1 146.4,349.1 146.6,348.2 146.8,347.9 147.0,348.5 147.3,348.2 147.5,348.3 147.7,348.1 147.9,347.4 148.1,347.7 148.3,347.9 148.5,347.0 148.7,346.9 149.0,346.3 149.2,347.0 149.4,347.3 149.6,345.8 149.8,346.6 150.0,346.6 150.2,345.9 150.4,346.0 150.7,345.7 150.9,345.8 151.1,346.2 151.3,346.4 151.5,346.2 151.7,346.4 151.9,346.1 152.1,345.4 152.3,346.5 152.6,346.2 152.8,345.3 153.0,346.2 153.2,345.5 153.4,345.2 153.6,345.8 153.8,344.0 154.0,344.1 154.3,345.0 154.5,344.5 154.7,344.1 154.9,345.1 155.1,344.6 155.3,343.7 155.5,343.9 155.7,344.4 156.0,344.8 156.2,343.1 156.4,343.9 156.6,343.5 156.8,342.8 157.0,343.3 157.2,342.6 157.4,342.9 157.7,343.7 157.9,343.1 158.1,343.1 158.3,342.9 158.5,342.7 158.7,342.9 158.9,341.8 159.1,342.1 159.4,342.6 159.6,341.8 159.8,341.9 160.0,342.5 160.2,342.6 160.4,341.6 160.6,341.5 160.8,342.0 161.0,341.9 161.3,341.4 161.5,341.9 161.7,341.8 161.9,341.5 162.1,342.2 162.3,342.0 162.5,341.7 162.7,341.7 163.0,342.0 163.2,341.6 163.4,340.8 163.6,341.2 163.8,341.1 164.0,340.7 164.2,341.0 164.4,341.0 164.7,340.8 164.9,340.5 165.1,341.0 165.3,339.9 165.5,340.9 165.7,340.4 165.9,340.4 166.1,339.3 166.4,340.8 166.6,339.1 166.8,339.4 167.0,339.9 167.2,339.3 167.4,339.2 167.6,338.5 167.8,339.1 168.0,339.3 168.3,339.4 168.5,339.0 168.7,339.2 168.9,339.3 169.1,338.8 169.3,338.8 169.5,339.9 169.7,338.8 170.0,339.8 170.2,339.2 170.4,339.8 170.6,338.8 170.8,339.2 171.0,339.0 171.2,338.6 171.4,338.7 171.7,338.1 171.9,338.2 172.1,337.9 172.3,338.2 172.5,337.7 172.7,336.9 172.9,337.2 173.1,337.2 173.4,336.7 173.6,337.5 173.8,337.0 174.0,337.0 174.2,336.2 174.4,336.2 174.6,336.7 174.8,335.4 175.1,336.1 175.3,335.8 175.5,335.4 175.7,335.5 175.9,334.9 176.1,335.3 176.3,334.6 176.5,334.4 176.7,335.5 177.0,334.5 177.2,333.8 177.4,335.0 177.6,334.1 177.8,333.5 178.0,334.2 178.2,334.6 178.4,334.3 178.7,334.8 178.9,333.9 179.1,334.2 179.3,333.5 179.5,334.0 179.7,334.5 179.9,334.0 180.1,333.9 180.4,332.9 180.6,333.5 180.8,333.0 181.0,333.8 181.2,333.1 181.4,333.4 181.6,332.7 181.8,333.8 182.1,332.3 182.3,332.7 182.5,333.3 182.7,332.4 182.9,331.8 183.1,332.4 183.3,332.6 183.5,332.5 183.7,331.3 184.0,332.3 184.2,331.4 184.4,333.0 184.6,332.3 184.8,332.1 185.0,332.6 185.2,332.5 185.4,331.7 185.7,333.0 185.9,332.1 186.1,331.4 186.3,332.8 186.5,332.8 186.7,332.7 186.9,332.3 187.1,331.7 187.4,332.5 187.6,332.9 187.8,332.5 188.0,332.9 188.2,331.8 188.4,332.6 188.6,332.6 188.8,331.5 189.1,331.4 189.3,331.8 189.5,332.1 189.7,332.3 189.9,331.9 190.1,331.9 190.3,331.8 190.5,331.7 190.7,331.8 191.0,331.7 191.2,331.4 191.4,331.4 191.6,331.0 191.8,331.5 192.0,330.9 192.2,331.8 192.4,331.0 192.7,331.1 192.9,330.5 193.1,330.6 193.3,330.8 193.5,330.6 193.7,330.2 193.9,329.9 194.1,330.3 194.4,330.2 194.6,330.3 194.8,330.5 195.0,329.7 195.2,328.9 195.4,329.6 195.6,328.8 195.8,328.9 196.1,329.9 196.3,329.6 196.5,329.0 196.7,328.9 196.9,329.1 197.1,328.3 197.3,329.3 197.5,328.9 197.8,329.8 198.0,328.5 198.2,329.4 198.4,328.6 198.6,329.4 198.8,328.5 199.0,329.2 199.2,328.7 199.4,328.5 199.7,328.8 199.9,329.0 200.1,328.9 200.3,329.4 200.5,329.0 200.7,327.7 200.9,328.2 201.1,327.5 201.4,328.1 201.6,328.6 201.8,327.7 202.0,327.7 202.2,328.3 202.4,328.1 202.6,329.0 202.8,328.4 203.1,328.5 203.3,329.0 203.5,328.0 203.7,328.3 203.9,327.8 204.1,328.4 204.3,328.7 204.5,328.8 204.8,328.1 205.0,327.7 205.2,327.6 205.4,327.2 205.6,327.8 205.8,328.3 206.0,326.8 206.2,326.7 206.4,328.1 206.7,326.6 206.9,327.4 207.1,326.6 207.3,327.4 207.5,327.3 207.7,327.0 207.9,327.2 208.1,326.8 208.4,327.0 208.6,327.5 208.8,327.1 209.0,326.2 209.2,326.0 209.4,326.2 209.6,326.1 209.8,326.1 210.1,325.7 210.3,326.2 210.5,325.8 210.7,325.9 210.9,325.6 211.1,325.8 211.3,324.9 211.5,326.1 211.8,325.4 212.0,325.3 212.2,325.3 212.4,325.4 212.6,325.2 212.8,324.8 213.0,324.5 213.2,323.8 213.4,324.5 213.7,324.2 213.9,324.1 214.1,325.0 214.3,323.4 214.5,324.3 214.7,324.9 214.9,324.8 215.1,325.0 215.4,324.0 215.6,324.2 215.8,325.0 216.0,324.6 216.2,325.6 216.4,324.9 216.6,324.9 216.8,325.0 217.1,324.6 217.3,324.8 217.5,324.3 217.7,324.5 217.9,324.2 218.1,324.5 218.3,323.7 218.5,323.6 218.8,324.4 219.0,324.2 219.2,323.7 219.4,324.0 219.6,323.6 219.8,324.8 220.0,323.2 220.2,324.7 220.5,323.5 220.7,324.0 220.9,323.7 221.1,323.6 221.3,324.2 221.5,324.1 221.7,323.6 221.9,323.3 222.1,324.4 222.4,324.3 222.6,323.8 222.8,323.6 223.0,323.9 223.2,323.9 223.4,324.5 223.6,323.5 223.8,324.0 224.1,323.7 224.3,324.6 224.5,324.8 224.7,324.0 224.9,324.3 225.1,324.7 225.3,324.0 225.5,323.7 225.8,324.7 226.0,324.5 226.2,324.2 226.4,325.1 226.6,324.6 226.8,323.7 227.0,324.7 227.2,324.5 227.5,325.3 227.7,324.5 227.9,324.3 228.1,324.5 228.3,324.3 228.5,323.4 228.7,324.0 228.9,323.7 229.1,324.3 229.4,324.4 229.6,323.0 229.8,323.0 230.0,323.0 230.2,323.0 230.4,322.9 230.6,323.2 230.8,323.6 231.1,322.5 231.3,322.3 231.5,322.1 231.7,323.4 231.9,323.5 232.1,322.2 232.3,322.1 232.5,322.9 232.8,323.4 233.0,323.4 233.2,323.0 233.4,323.2 233.6,323.1 233.8,322.6 234.0,323.6 234.2,322.8 234.5,322.2 234.7,322.5 234.9,322.0 235.1,322.6 235.3,323.1 235.5,322.0 235.7,323.1 235.9,323.4 236.2,322.9 236.4,322.3 236.6,322.6 236.8,322.9 237.0,322.6 237.2,322.7 237.4,323.3 237.6,323.4 237.8,323.9 238.1,323.2 238.3,324.6 238.5,324.3 238.7,324.3 238.9,323.7 239.1,324.9 239.3,324.0 239.5,325.1 239.8,324.8 240.0,324.0 240.2,324.3 240.4,325.2 240.6,324.9 240.8,324.4 241.0,324.6 241.2,324.6 241.5,324.1 241.7,324.4 241.9,324.2 242.1,324.3 242.3,324.8 242.5,324.1 242.7,324.9 242.9,324.7 243.2,325.0 243.4,325.0 243.6,325.2 243.8,324.9 244.0,324.9 244.2,324.5 244.4,324.8 244.6,324.1 244.8,324.4 245.1,324.8 245.3,324.4 245.5,324.6 245.7,323.9 245.9,325.0 246.1,324.1 246.3,324.6 246.5,324.4 246.8,324.9 247.0,324.4 247.2,324.2 247.4,323.9 247.6,324.8 247.8,324.5 248.0,325.4 248.2,325.9 248.5,324.4 248.7,324.8 248.9,325.5 249.1,326.0 249.3,325.6 249.5,325.6 249.7,325.7 249.9,325.7 250.2,326.1 250.4,325.7 250.6,324.8 250.8,325.2 251.0,325.5 251.2,325.0 251.4,325.3 251.6,325.2 251.8,325.2 252.1,325.9 252.3,325.5 252.5,325.2 252.7,325.5 252.9,325.9 253.1,326.7 253.3,326.2 253.5,326.8 253.8,326.5 254.0,325.5 254.2,326.6 254.4,326.1 254.6,326.0 254.8,326.2 255.0,327.5 255.2,326.1 255.5,326.7 255.7,327.8 255.9,327.8 256.1,326.9 256.3,327.8 256.5,327.9 256.7,328.2 256.9,328.9 257.2,328.5 257.4,328.8 257.6,329.9 257.8,328.6 258.0,329.4 258.2,330.0 258.4,329.4 258.6,329.6 258.9,329.2 259.1,329.8 259.3,329.4 259.5,330.0 259.7,330.0 259.9,329.5 260.1,329.3 260.3,329.6 260.5,329.5 260.8,328.9 261.0,329.9 261.2,329.5 261.4,329.8 261.6,328.8 261.8,329.8 262.0,330.2 262.2,329.6 262.5,328.6 262.7,329.3 262.9,329.1 263.1,329.2 263.3,328.9 263.5,329.2 263.7,328.7 263.9,329.0 264.2,328.6 264.4,328.9 264.6,329.3 264.8,328.7 265.0,329.2 265.2,328.5 265.4,328.8 265.6,328.9 265.9,329.7 266.1,328.8 266.3,329.7 266.5,328.6 266.7,329.2 266.9,329.7 267.1,329.7 267.3,329.0 267.5,328.9 267.8,329.9 268.0,329.0 268.2,329.8 268.4,329.3 268.6,329.5 268.8,330.2 269.0,330.1 269.2,329.7 269.5,328.6 269.7,329.4 269.9,329.2 270.1,329.1 270.3,329.8 270.5,328.4 270.7,329.3 270.9,329.3 271.2,328.9 271.4,330.1 271.6,328.8 271.8,329.5 272.0,329.6 272.2,328.7 272.4,329.0 272.6,329.3 272.9,330.1 273.1,330.3 273.3,330.2 273.5,330.2 273.7,329.3 273.9,330.4 274.1,330.1 274.3,330.9 274.5,331.0 274.8,331.2 275.0,330.7 275.2,330.7 275.4,329.8 275.6,330.3 275.8,329.6 276.0,330.5 276.2,329.5 276.5,329.9 276.7,329.5 276.9,329.6 277.1,330.1 277.3,329.6 277.5,330.0 277.7,329.4 277.9,330.5 278.2,329.6 278.4,330.4 278.6,330.8 278.8,329.2 279.0,329.6 279.2,330.0 279.4,330.6 279.6,329.9 279.9,330.3 280.1,329.8 280.3,330.4 280.5,329.6 280.7,330.6 280.9,329.4 281.1,329.4 281.3,331.0 281.6,330.3 281.8,329.9 282.0,331.2 282.2,331.0 282.4,331.1 282.6,330.4 282.8,331.0 283.0,331.0 283.2,330.0 283.5,331.0 283.7,330.7 283.9,331.3 284.1,331.3 284.3,330.3 284.5,330.3 284.7,330.6 284.9,330.8 285.2,330.3 285.4,330.5 285.6,330.8 285.8,330.8 286.0,331.2 286.2,330.8 286.4,330.4 286.6,330.1 286.9,331.3 287.1,330.9 287.3,330.9 287.5,331.0 287.7,330.4 287.9,330.9 288.1,330.2 288.3,330.9 288.6,330.6 288.8,331.8 289.0,331.2 289.2,330.9 289.4,331.1 289.6,331.4 289.8,330.7 290.0,330.9 290.2,330.8 290.5,331.8 290.7,331.0 290.9,330.1 291.1,331.3 291.3,331.7 291.5,330.4 291.7,331.6 291.9,330.8 292.2,331.3 292.4,330.6 292.6,330.7 292.8,330.3 293.0,330.5 293.2,330.3 293.4,331.7 293.6,330.8 293.9,331.7 294.1,331.8 294.3,331.5 294.5,332.0 294.7,332.1 294.9,332.1 295.1,332.4 295.3,332.4 295.6,332.0 295.8,331.9 296.0,332.1 296.2,332.5 296.4,333.1 296.6,333.1 296.8,332.5 297.0,332.8 297.3,332.4 297.5,332.8 297.7,332.3 297.9,332.4 298.1,332.1 298.3,332.3 298.5,333.1 298.7,331.7 298.9,332.3 299.2,332.0 299.4,332.7 299.6,333.0 299.8,332.0 300.0,331.2 300.2,332.3 300.4,332.2 300.6,331.1 300.9,331.6 301.1,331.7 301.3,330.8 301.5,331.9 301.7,331.8 301.9,331.7 302.1,331.2 302.3,331.4 302.6,331.4 302.8,332.0 303.0,331.4 303.2,332.6 303.4,332.1 303.6,331.1 303.8,332.7 304.0,331.9 304.3,331.6 304.5,331.8 304.7,330.9 304.9,331.7 305.1,330.8 305.3,331.0 305.5,332.1 305.7,332.0 305.9,331.2 306.2,330.8 306.4,331.6 306.6,331.0 306.8,331.1 307.0,331.2 307.2,330.4 307.4,331.2 307.6,330.1 307.9,331.6 308.1,330.3 308.3,330.8 308.5,330.9 308.7,331.7 308.9,331.8 309.1,331.8 309.3,332.0 309.6,332.0 309.8,331.8 310.0,331.0 310.2,331.0 310.4,331.0 310.6,331.7 310.8,331.5 311.0,331.5 311.3,331.6 311.5,331.3 311.7,330.8 311.9,330.5 312.1,330.4 312.3,331.8 312.5,331.6 312.7,330.5 312.9,331.1 313.2,331.4 313.4,332.0 313.6,330.9 313.8,331.3 314.0,331.8 314.2,330.4 314.4,330.8 314.6,331.1 314.9,330.8 315.1,331.9 315.3,331.5 315.5,331.1 315.7,330.5 315.9,331.3 316.1,331.1 316.3,330.5 316.6,330.4 316.8,329.9 317.0,330.5 317.2,330.9 317.4,331.0 317.6,330.7 317.8,330.9 318.0,330.2 318.3,330.3 318.5,331.1 318.7,330.7 318.9,330.2 319.1,330.8 319.3,331.0 319.5,330.9 319.7,330.7 320.0,330.4 320.2,330.8 320.4,331.5 320.6,330.7 320.8,330.4 321.0,330.8 321.2,330.0 321.4,330.7 321.6,330.4 321.9,330.9 322.1,330.4 322.3,330.8 322.5,331.1 322.7,330.1 322.9,329.8 323.1,330.3 323.3,330.1 323.6,330.2 323.8,329.8 324.0,330.3 324.2,330.1 324.4,329.3 324.6,330.0 324.8,330.3 325.0,330.7 325.3,329.9 325.5,329.8 325.7,330.7 325.9,329.9 326.1,330.2 326.3,330.4 326.5,330.5 326.7,330.1 327.0,329.5 327.2,330.4 327.4,329.6 327.6,329.5 327.8,330.4 328.0,329.9 328.2,328.9 328.4,329.1 328.6,329.1 328.9,328.8 329.1,328.3 329.3,329.4 329.5,329.4 329.7,329.0 329.9,328.7 330.1,328.9 330.3,329.1 330.6,328.2 330.8,328.5 331.0,328.4 331.2,328.9 331.4,328.7 331.6,327.9 331.8,328.2 332.0,329.2 332.3,327.8 332.5,328.2 332.7,327.8 332.9,328.5 333.1,327.8 333.3,327.6 333.5,327.1 333.7,327.5 334.0,327.9 334.2,327.8 334.4,326.8 334.6,328.2 334.8,327.3 335.0,327.0 335.2,327.6 335.4,327.2 335.6,327.3 335.9,327.3 336.1,327.6 336.3,327.4 336.5,326.9 336.7,327.9 336.9,327.4 337.1,328.2 337.3,327.9 337.6,327.9 337.8,327.7 338.0,328.2 338.2,327.4 338.4,327.0 338.6,327.6 338.8,326.6 339.0,327.2 339.3,327.4 339.5,327.0 339.7,327.7 339.9,327.4 340.1,327.0 340.3,326.7 340.5,327.4 340.7,326.5 341.0,326.5 341.2,326.9 341.4,326.8 341.6,327.3 341.8,326.3 342.0,325.6 342.2,326.7 342.4,326.9 342.7,326.2 342.9,326.9 343.1,326.9 343.3,325.7 343.5,325.7 343.7,325.2 343.9,325.9 344.1,325.9 344.3,325.7 344.6,324.8 344.8,324.9 345.0,324.5 345.2,324.3 345.4,324.3 345.6,324.1 345.8,324.7 346.0,324.9 346.3,324.9 346.5,324.5 346.7,324.2 346.9,324.5 347.1,324.8 347.3,324.4 347.5,324.6 347.7,324.5 348.0,324.4 348.2,324.7 348.4,324.2 348.6,325.3 348.8,324.1 349.0,325.0 349.2,324.1 349.4,325.3 349.7,324.9 349.9,324.0 350.1,324.0 350.3,323.7 350.5,324.1 350.7,324.3 350.9,324.9 351.1,323.5 351.3,324.7 351.6,323.9 351.8,324.3 352.0,324.7 352.2,324.6 352.4,324.7 352.6,324.5 352.8,324.7 353.0,324.8 353.3,325.4 353.5,324.2 353.7,324.7 353.9,324.4 354.1,324.5 354.3,324.6 354.5,325.5 354.7,325.8 355.0,325.6 355.2,324.4 355.4,324.9 355.6,324.3 355.8,324.9 356.0,325.2 356.2,324.8 356.4,324.9 356.7,324.3 356.9,323.5 357.1,323.4 357.3,324.1 357.5,324.4 357.7,324.6 357.9,323.9 358.1,324.0 358.4,324.1 358.6,324.4 358.8,323.9 359.0,323.5 359.2,324.6 359.4,324.4 359.6,324.5 359.8,323.8 360.0,324.5 360.3,323.8 360.5,323.8 360.7,324.5 360.9,324.4 361.1,324.8 361.3,325.2 361.5,324.4 361.7,325.2 362.0,324.0 362.2,324.6 362.4,323.6 362.6,324.2 362.8,323.9 363.0,324.0 363.2,324.4 363.4,323.3 363.7,324.2 363.9,323.8 364.1,324.3 364.3,324.5 364.5,324.2 364.7,324.3 364.9,324.0 365.1,324.9 365.4,324.4 365.6,325.0 365.8,324.3 366.0,325.7 366.2,324.7 366.4,325.8 366.6,325.1 366.8,325.7 367.0,325.5 367.3,325.9 367.5,325.7 367.7,326.4 367.9,326.2 368.1,326.3 368.3,326.8 368.5,325.8 368.7,326.8 369.0,326.3 369.2,325.6 369.4,326.6 369.6,326.4 369.8,327.4 370.0,326.5 370.2,326.7 370.4,326.9 370.7,326.0 370.9,327.1 371.1,326.5 371.3,327.7 371.5,327.9 371.7,327.2 371.9,326.5 372.1,327.4 372.4,327.5 372.6,327.8 372.8,327.3 373.0,327.0 373.2,327.4 373.4,327.1 373.6,328.3 373.8,327.1 374.0,327.0 374.3,327.3 374.5,326.7 374.7,327.0 374.9,327.1 375.1,326.9 375.3,327.0 375.5,327.7 375.7,327.4 376.0,326.6 376.2,327.1 376.4,327.7 376.6,327.1 376.8,327.5 377.0,327.5 377.2,327.8 377.4,327.5 377.7,327.6 377.9,327.3 378.1,327.9 378.3,327.4 378.5,328.8 378.7,328.1 378.9,328.1 379.1,328.7 379.4,328.5 379.6,328.6 379.8,328.7 380.0,328.5 380.2,328.5 380.4,328.8 380.6,329.7 380.8,329.0 381.1,329.2 381.3,329.3 381.5,329.9 381.7,330.5 381.9,329.4 382.1,330.2 382.3,330.2 382.5,330.1 382.7,330.7 383.0,330.0 383.2,331.2 383.4,331.1 383.6,330.6 383.8,332.0 384.0,331.8 384.2,332.0 384.4,330.9 384.7,331.6 384.9,331.6 385.1,332.2 385.3,332.6 385.5,331.2 385.7,332.1 385.9,332.2 386.1,332.8 386.4,332.4 386.6,332.0 386.8,332.6 387.0,332.3 387.2,332.5 387.4,333.0 387.6,332.8 387.8,333.2 388.1,332.4 388.3,333.9 388.5,333.7 388.7,333.5 388.9,332.5 389.1,332.3 389.3,332.8 389.5,333.1 389.7,334.0 390.0,333.8 390.2,333.0 390.4,333.9 390.6,333.9 390.8,333.4 391.0,334.1 391.2,333.7 391.4,333.3 391.7,333.2 391.9,333.8 392.1,334.3 392.3,333.4 392.5,333.3 392.7,334.4 392.9,333.4 393.1,335.1 393.4,334.1 393.6,334.7 393.8,335.3 394.0,333.9 394.2,334.1 394.4,335.5 394.6,334.6 394.8,334.8 395.1,335.0 395.3,335.5 395.5,335.8 395.7,335.3 395.9,335.2 396.1,335.4 396.3,335.7 396.5,336.2 396.7,335.8 397.0,336.6 397.2,335.4 397.4,336.2 397.6,336.8 397.8,336.6 398.0,336.2 398.2,335.7 398.4,335.9 398.7,336.2 398.9,336.5 399.1,336.2 399.3,335.7 399.5,336.1 399.7,336.7 399.9,336.8 400.1,335.8 400.4,336.2 400.6,335.6 400.8,336.2 401.0,337.2 401.2,336.5 401.4,336.4 401.6,336.3 401.8,336.0 402.1,335.8 402.3,336.7 402.5,336.6 402.7,337.5 402.9,336.1 403.1,337.2 403.3,337.6 403.5,336.3 403.8,337.5 404.0,336.5 404.2,337.6 404.4,338.1 404.6,337.5 404.8,337.7 405.0,337.3 405.2,337.8 405.4,338.3 405.7,337.7 405.9,337.7 406.1,338.0 406.3,338.2 406.5,337.1 406.7,338.0 406.9,337.7 407.1,338.3 407.4,338.6 407.6,338.4 407.8,338.9 408.0,337.9 408.2,338.3 408.4,338.1 408.6,338.6 408.8,338.7 409.1,338.6 409.3,338.2 409.5,338.8 409.7,338.6 409.9,339.2 410.1,338.8 410.3,339.5 410.5,339.2 410.8,338.3 411.0,339.1 411.2,338.6 411.4,339.8 411.6,340.1 411.8,339.5 412.0,339.7 412.2,338.9 412.4,338.8 412.7,339.4 412.9,339.6 413.1,339.0 413.3,339.8 413.5,339.9 413.7,340.1 413.9,340.6 414.1,340.3 414.4,339.9 414.6,340.1 414.8,340.5 415.0,339.8 415.2,341.0 415.4,340.9 415.6,340.5 415.8,340.5 416.1,341.7 416.3,341.4 416.5,341.6 416.7,342.1 416.9,341.9 417.1,341.7 417.3,342.0 417.5,341.3 417.8,342.1 418.0,341.1 418.2,342.1 418.4,342.1 418.6,341.1 418.8,342.6 419.0,341.3 419.2,342.3 419.5,341.6 419.7,342.0 419.9,341.6 420.1,342.7 420.3,342.5 420.5,342.9 420.7,342.5 420.9,342.6 421.1,342.5 421.4,342.4 421.6,342.9 421.8,342.8 422.0,342.7 422.2,342.3 422.4,342.8 422.6,343.4 422.8,343.0 423.1,343.4 423.3,343.3 423.5,343.0 423.7,343.2 423.9,343.3 424.1,343.7 424.3,343.8 424.5,344.5 424.8,343.6 425.0,343.4 425.2,344.6 425.4,344.2 425.6,344.5 425.8,345.5 426.0,345.4 426.2,345.1 426.5,345.4 426.7,345.1 426.9,345.6 427.1,344.9 427.3,345.0 427.5,345.3 427.7,346.3 427.9,346.5 428.1,345.6 428.4,346.6 428.6,346.1 428.8,346.9 429.0,346.4 429.2,347.1 429.4,346.7 429.6,346.8 429.8,347.0 430.1,347.2 430.3,347.1 430.5,346.9 430.7,348.5 430.9,347.7 431.1,347.2 431.3,347.4 431.5,347.6 431.8,348.4 432.0,349.4 432.2,348.2 432.4,348.9 432.6,348.4 432.8,349.8 433.0,349.5 433.2,349.6 433.5,350.1 433.7,350.3 433.9,350.1 434.1,349.5 434.3,349.2 434.5,349.5 434.7,349.3 434.9,351.0 435.1,350.2 435.4,350.5 435.6,350.5 435.8,351.3 436.0,350.3 436.2,351.1 436.4,350.8 436.6,350.6 436.8,350.0 437.1,351.3 437.3,350.6 437.5,350.8 437.7,351.2 437.9,351.3 438.1,351.8 438.3,351.0 438.5,351.4 438.8,351.5 439.0,351.3 439.2,351.6 439.4,351.1 439.6,351.8 439.8,350.9 440.0,350.5 440.2,351.1 440.5,351.7 440.7,351.0 440.9,351.0 441.1,351.1 441.3,351.4 441.5,351.4 441.7,351.6 441.9,350.8 442.2,352.3 442.4,352.0 442.6,351.4 442.8,352.6 443.0,352.3 443.2,352.9 443.4,351.8 443.6,353.2 443.8,352.6 444.1,351.9 444.3,353.2 444.5,352.9 444.7,352.7 444.9,353.2 445.1,352.6 445.3,353.8 445.5,353.5 445.8,353.6 446.0,354.5 446.2,354.0 446.4,353.8 446.6,353.9 446.8,354.4 447.0,355.0 447.2,354.4 447.5,354.3 447.7,355.3 447.9,355.0 448.1,355.0 448.3,355.9 448.5,354.5 448.7,355.2 448.9,354.3 449.2,355.0 449.4,355.4 449.6,355.7 449.8,354.7 450.0,355.7 450.2,355.7 450.4,355.3 450.6,356.2 450.8,355.4 451.1,355.1 451.3,355.7 451.5,354.8 451.7,356.4 451.9,356.2 452.1,355.6 452.3,356.1 452.5,356.1 452.8,356.6 453.0,355.6 453.2,355.3 453.4,355.0 453.6,355.7 453.8,355.1 454.0,355.7 454.2,356.0 454.5,355.6 454.7,355.4 454.9,356.4 455.1,355.8 455.3,356.2 455.5,356.7 455.7,355.8 455.9,356.2 456.2,357.5 456.4,356.8 456.6,356.5 456.8,356.9 457.0,356.9 457.2,356.6 457.4,357.0 457.6,357.2 457.8,357.2 458.1,357.5 458.3,356.5 458.5,356.7 458.7,357.9 458.9,357.5 459.1,358.4 459.3,358.2 459.5,357.6 459.8,358.7 460.0,358.3 460.2,359.0 460.4,359.7 460.6,360.1 460.8,359.4 461.0,359.8 461.2,359.7 461.5,360.0 461.7,358.9 461.9,359.6 462.1,360.0 462.3,360.2 462.5,359.7 462.7,360.5 462.9,360.8 463.2,360.4 463.4,360.4 463.6,360.5 463.8,360.9 464.0,361.5 464.2,361.9 464.4,361.1 464.6,361.1 464.9,361.3 465.1,362.2 465.3,362.0 465.5,362.1 465.7,362.3 465.9,362.4 466.1,362.3 466.3,362.1 466.5,362.4 466.8,362.9 467.0,363.2 467.2,363.0 467.4,363.1 467.6,364.1 467.8,363.3 468.0,363.8 468.2,363.7 468.5,363.5 468.7,363.3 468.9,363.9 469.1,363.8 469.3,364.6 469.5,363.7 469.7,364.1 469.9,364.7 470.2,364.4 470.4,364.7 470.6,364.9 470.8,363.9 471.0,364.5 471.2,364.3 471.4,365.5 471.6,364.9 471.9,365.3 472.1,365.9 472.3,365.1 472.5,365.4 472.7,365.7 472.9,365.5 473.1,366.3 473.3,366.2 473.5,366.4 473.8,366.1 474.0,366.1 474.2,366.2 474.4,366.3 474.6,365.9 474.8,367.0 475.0,367.3 475.2,367.1 475.5,367.0 475.7,367.3 475.9,367.5 476.1,367.7 476.3,368.4 476.5,367.3 476.7,367.9 476.9,368.2 477.2,367.9 477.4,367.9 477.6,367.6 477.8,367.8 478.0,368.5 478.2,368.9 478.4,368.1 478.6,368.6 478.9,368.7 479.1,369.0 479.3,368.7 479.5,368.9 479.7,369.2 479.9,368.3 480.1,368.9 480.3,368.2 480.6,368.2 480.8,368.8 481.0,368.6 481.2,369.7 481.4,370.1 481.6,369.6 481.8,369.9 482.0,370.0 482.2,370.2 482.5,370.6 482.7,370.9 482.9,370.7 483.1,370.7 483.3,371.0 483.5,371.7 483.7,371.2 483.9,372.1 484.2,371.4 484.4,372.2 484.6,371.1 484.8,371.3 485.0,371.9 485.2,371.9 485.4,371.6 485.6,372.5 485.9,371.8 486.1,371.9 486.3,371.5 486.5,372.6 486.7,372.3 486.9,372.2 487.1,371.3 487.3,372.4 487.6,372.2 487.8,372.8 488.0,373.2 488.2,372.7 488.4,373.4 488.6,373.9 488.8,373.9 489.0,373.9 489.2,373.8 489.5,374.2 489.7,374.2 489.9,375.4 490.1,375.2 490.3,374.8 490.5,375.5 490.7,375.1 490.9,375.0 491.2,376.5 491.4,376.6 491.6,375.5 491.8,376.0 492.0,376.6 492.2,376.5 492.4,376.4 492.6,376.7 492.9,376.9 493.1,376.9 493.3,377.3 493.5,377.3 493.7,377.1 493.9,377.6 494.1,377.0 494.3,378.5 494.6,377.2 494.8,378.1 495.0,378.4 495.2,378.6 495.4,378.6 495.6,379.3 495.8,378.3 496.0,379.0 496.2,379.2 496.5,379.1 496.7,379.3 496.9,380.3 497.1,379.5 497.3,379.8 497.5,380.0 497.7,380.2 497.9,380.5 498.2,380.5 498.4,380.9 498.6,380.9 498.8,381.2 499.0,381.7 499.2,380.8 499.4,382.0 499.6,381.1 499.9,381.7 500.1,381.5 500.3,381.3 500.5,380.7 500.7,382.2 500.9,381.2 501.1,381.2 501.3,382.0 501.6,381.6 501.8,382.4 502.0,382.4 502.2,382.0 502.4,381.8 502.6,382.1 502.8,381.2 503.0,381.9 503.3,381.9 503.5,381.7 503.7,382.1 503.9,381.3 504.1,382.5 504.3,382.7 504.5,381.6 504.7,382.3 504.9,383.0 505.2,382.6 505.4,382.0 505.6,382.1 505.8,382.9 506.0,383.4 506.2,382.2 506.4,382.7 506.6,382.4 506.9,382.7 507.1,383.1 507.3,383.0 507.5,382.8 507.7,384.0 507.9,383.2 508.1,383.2 508.3,383.8 508.6,383.3 508.8,383.1 509.0,383.6 509.2,382.7 509.4,383.4 509.6,383.5 509.8,383.3 510.0,382.9 510.3,383.0 510.5,382.3 510.7,383.2 510.9,383.5 511.1,383.9 511.3,383.7 511.5,383.7 511.7,383.6 511.9,384.1 512.2,384.3 512.4,384.9 512.6,384.5 512.8,384.4 513.0,384.7 513.2,384.6 513.4,384.8 513.6,384.2 513.9,384.4 514.1,384.7 514.3,385.5 514.5,385.3 514.7,385.5 514.9,385.9 515.1,385.0 515.3,385.9 515.6,385.6 515.8,385.1 516.0,386.2 516.2,384.9 516.4,385.1 516.6,385.6 516.8,386.0 517.0,385.8 517.3,385.2 517.5,386.0 517.7,386.2 517.9,387.2 518.1,387.1 518.3,386.6 518.5,386.1 518.7,386.8 518.9,386.2 519.2,386.8 519.4,386.9 519.6,386.6 519.8,386.9 520.0,386.7 520.2,386.6 520.4,387.5 520.6,387.1 520.9,386.7 521.1,386.5 521.3,387.0 521.5,387.2 521.7,387.4 521.9,387.8 522.1,387.4 522.3,386.8 522.6,388.2 522.8,388.1 523.0,388.1 523.2,388.4 523.4,387.3 523.6,388.0 523.8,388.1 524.0,389.0 524.3,388.0 524.5,388.5 524.7,389.5 524.9,389.2 525.1,388.8 525.3,389.9 525.5,388.6 525.7,389.5 526.0,389.2 526.2,389.6 526.4,389.3 526.6,389.1 526.8,389.6 527.0,389.0 527.2,389.8 527.4,389.4 527.6,389.9 527.9,389.3 528.1,389.2 528.3,389.6 528.5,389.9 528.7,388.5 528.9,389.4 529.1,389.6 529.3,388.7 529.6,388.9 529.8,389.6 530.0,389.0 530.2,389.1 530.4,390.1 530.6,389.0 530.8,389.0 531.0,388.6 531.3,388.9 531.5,388.9 531.7,390.2 531.9,390.0 532.1,388.9 532.3,390.3 532.5,389.9 532.7,389.5 533.0,390.0 533.2,389.9 533.4,389.4 533.6,389.0 533.8,389.5 534.0,390.0 534.2,389.9 534.4,389.7 534.6,390.5 534.9,389.6 535.1,390.5 535.3,389.9 535.5,390.1 535.7,389.5 535.9,390.0 536.1,389.6 536.3,389.1 536.6,389.8 536.8,389.7 537.0,390.1 537.2,389.9 537.4,389.3 537.6,389.6 537.8,389.1 538.0,389.5 538.3,390.7 538.5,390.9 538.7,390.6 538.9,390.5 539.1,390.7 539.3,390.8 539.5,389.9 539.7,390.3 540.0,391.3 540.2,391.4 540.4,391.0 540.6,390.8 540.8,390.8 541.0,390.8 541.2,390.7 541.4,390.4 541.7,391.3 541.9,391.1 542.1,391.2 542.3,392.0 542.5,391.4 542.7,390.8 542.9,391.3 543.1,390.4 543.3,391.5 543.6,391.1 543.8,390.9 544.0,391.2 544.2,391.5 544.4,390.7 544.6,390.4 544.8,391.6 545.0,390.8 545.3,391.4 545.5,390.5 545.7,390.9 545.9,390.4 546.1,391.0 546.3,390.6 546.5,390.4 546.7,391.4 547.0,390.8 547.2,389.8 547.4,390.5 547.6,390.1 547.8,389.8 548.0,390.0 548.2,390.0 548.4,390.1 548.7,389.6 548.9,389.1 549.1,389.6 549.3,390.2 549.5,389.2 549.7,390.1 549.9,390.1 550.1,389.7 550.3,390.0 550.6,389.6 550.8,389.7 551.0,389.3 551.2,389.9 551.4,390.2 551.6,389.1 551.8,389.8 552.0,388.3 552.3,388.6 552.5,388.4 552.7,389.5 552.9,388.4 553.1,388.9 553.3,387.7 553.5,388.5 553.7,388.7 554.0,388.4 554.2,387.5 554.4,388.3 554.6,388.6 554.8,388.7 555.0,388.2 555.2,387.2 555.4,387.8 555.7,388.2 555.9,387.4 556.1,387.9 556.3,387.4 556.5,387.6 556.7,387.8 556.9,387.1 557.1,388.2 557.3,387.4 557.6,387.3 557.8,386.8 558.0,387.0 558.2,386.8 558.4,386.2 558.6,386.1 558.8,386.9 559.0,386.7 559.3,385.9 559.5,385.9 559.7,386.6 559.9,386.7 560.1,387.0 560.3,386.3 560.5,387.1 560.7,386.7 561.0,386.6 561.2,386.7 561.4,387.2 561.6,386.9 561.8,387.0 562.0,386.3 562.2,386.5 562.4,386.1 562.7,386.4 562.9,386.5 563.1,386.5 563.3,387.1 563.5,387.1 563.7,387.3 563.9,387.1 564.1,387.6 564.4,387.3 564.6,387.8 564.8,387.6 565.0,387.8 565.2,387.4 565.4,386.8 565.6,386.7 565.8,388.1 566.0,387.4 566.3,387.4 566.5,387.0 566.7,386.8 566.9,387.7 567.1,386.3 567.3,386.7 567.5,386.6 567.7,386.1 568.0,386.0 568.2,386.2 568.4,386.3 568.6,386.3 568.8,386.9 569.0,386.0 569.2,386.7 569.4,387.2 569.7,387.0 569.9,386.1 570.1,385.8 570.3,387.0 570.5,386.9 570.7,386.5 570.9,387.3 571.1,386.6 571.4,386.9 571.6,386.4 571.8,387.0 572.0,386.7 572.2,386.7 572.4,387.5 572.6,387.1 572.8,386.4 573.0,387.4 573.3,387.5 573.5,386.7 573.7,387.0 573.9,387.2 574.1,387.1 574.3,387.3 574.5,387.6 574.7,387.1 575.0,388.2 575.2,387.2 575.4,387.3 575.6,388.5 575.8,388.6 576.0,387.9 576.2,387.9 576.4,387.7 576.7,388.8 576.9,388.5 577.1,388.3 577.3,389.0 577.5,389.6 577.7,389.4 577.9,390.0 578.1,389.8 578.4,389.6 578.6,389.4 578.8,389.7 579.0,390.0 579.2,389.8 579.4,389.9 579.6,389.5 579.8,389.8 580.0,390.0 580.3,389.3 580.5,388.7 580.7,390.1 580.9,389.5 581.1,389.1 581.3,389.4 581.5,389.2 581.7,388.6 582.0,389.3 582.2,388.8 582.4,389.5 582.6,389.3 582.8,389.9 583.0,389.3 583.2,389.4 583.4,389.1 583.7,389.0 583.9,388.6 584.1,389.6 584.3,389.2 584.5,388.9 584.7,389.2 584.9,388.9 585.1,388.7 585.4,389.1 585.6,389.5 585.8,388.8 586.0,388.1 586.2,388.4 586.4,389.4 586.6,388.1 586.8,388.9 587.1,388.2 587.3,388.6 587.5,388.1 587.7,387.3 587.9,387.8 588.1,388.8 588.3,387.9 588.5,388.2 588.7,387.8 589.0,387.9 589.2,388.1 589.4,388.2 589.6,388.8 589.8,388.0 590.0,388.0 590.2,387.8 590.4,387.6 590.7,387.5 590.9,388.6 591.1,387.6 591.3,389.1 591.5,388.9 591.7,388.4 591.9,388.1 592.1,388.6 592.4,388.6 592.6,389.1 592.8,388.2 593.0,388.4 593.2,388.6 593.4,388.5 593.6,388.4 593.8,388.0 594.1,388.2 594.3,388.7 594.5,389.0 594.7,389.6 594.9,390.1 595.1,390.1 595.3,389.5 595.5,390.2 595.7,389.3 596.0,389.1 596.2,390.1 596.4,388.8 596.6,389.1 596.8,389.2 597.0,389.9 597.2,389.0 597.4,389.6 597.7,389.1 597.9,388.8 598.1,389.6 598.3,389.6 598.5,389.1 598.7,389.3 598.9,389.4 599.1,390.3 599.4,390.1 599.6,390.1 599.8,390.2 600.0,389.8 600.2,390.3 600.4,389.8 600.6,389.5 600.8,389.7 601.1,390.1 601.3,389.9 601.5,390.3 601.7,389.0 601.9,389.5 602.1,389.8 602.3,389.1 602.5,389.6 602.8,389.3 603.0,389.0 603.2,390.0 603.4,388.9 603.6,390.1 603.8,389.5 604.0,389.4 604.2,389.5 604.4,389.7 604.7,389.8 604.9,390.4 605.1,389.4 605.3,390.7 605.5,390.5 605.7,390.6 605.9,389.4 606.1,388.9 606.4,389.3 606.6,389.4 606.8,389.4 607.0,389.0 607.2,389.0 607.4,389.1 607.6,388.2 607.8,389.6 608.1,388.2 608.3,388.8 608.5,389.0 608.7,388.1 608.9,388.3 609.1,388.9 609.3,387.8 609.5,388.3 609.8,387.8 610.0,387.6 610.2,387.7 610.4,387.2 610.6,387.2 610.8,387.7 611.0,387.4 611.2,387.4 611.4,386.7 611.7,387.2 611.9,387.8 612.1,387.6 612.3,387.4 612.5,387.0 612.7,386.9 612.9,387.4 613.1,387.8 613.4,387.2 613.6,387.9 613.8,387.2 614.0,388.0 614.2,387.1 614.4,387.7 614.6,387.2 614.8,388.0 615.1,388.1 615.3,387.5 615.5,387.6 615.7,387.8 615.9,387.4 616.1,387.6 616.3,387.6 616.5,388.4 616.8,388.6 617.0,387.8 617.2,387.8 617.4,388.0 617.6,387.7 617.8,387.8 618.0,388.4 618.2,388.1 618.4,388.0 618.7,387.9 618.9,388.8 619.1,388.0 619.3,388.4 619.5,387.9 619.7,388.2 619.9,388.5 620.1,388.4 620.4,388.8 620.6,388.6 620.8,388.0 621.0,387.8 621.2,389.1 621.4,388.3 621.6,389.2 621.8,388.6 622.1,388.2 622.3,388.7 622.5,388.3 622.7,388.5 622.9,388.1 623.1,388.8 623.3,389.1 623.5,388.5 623.8,389.7 624.0,388.8 624.2,389.3 624.4,388.7 624.6,388.8 624.8,390.6 625.0,390.6 625.2,390.7 625.5,389.5 625.7,390.5 625.9,390.6 626.1,390.5 626.3,390.5 626.5,389.9 626.7,390.2 626.9,389.7 627.1,389.9 627.4,390.1 627.6,389.5 627.8,389.6 628.0,389.4 628.2,389.5 628.4,389.8 628.6,389.3 628.8,389.3 629.1,388.4 629.3,388.8 629.5,389.3 629.7,388.6 629.9,388.7 630.1,388.5 630.3,389.5 630.5,388.7 630.8,388.5 631.0,389.1 631.2,389.2 631.4,388.9 631.6,389.1 631.8,388.7 632.0,388.6 632.2,388.4 632.5,388.4 632.7,388.4 632.9,388.9 633.1,388.7 633.3,388.8 633.5,389.1 633.7,388.8 633.9,388.2 634.1,388.5 634.4,388.3 634.6,387.9 634.8,388.6 635.0,388.0 635.2,387.8 635.4,387.8 635.6,388.6 635.8,388.1 636.1,388.6 636.3,388.1 636.5,388.0 636.7,388.5 636.9,388.5 637.1,388.3 637.3,387.8 637.5,388.1 637.8,387.8 638.0,388.2 638.2,388.3 638.4,388.8 638.6,388.7 638.8,388.2 639.0,388.2 639.2,387.8 639.5,388.3 639.7,388.1 639.9,388.0 640.1,387.2 640.3,387.1 640.5,387.2 640.7,386.6 640.9,386.5 641.1,385.8 641.4,386.6 641.6,386.2 641.8,386.5 642.0,386.0 642.2,385.3 642.4,386.4 642.6,386.7 642.8,385.7 643.1,385.9 643.3,386.2 643.5,386.2 643.7,385.5 643.9,387.0 644.1,386.6 644.3,385.8 644.5,385.1 644.8,385.9 645.0,386.4 645.2,385.8 645.4,385.7 645.6,384.6 645.8,385.0 646.0,384.0 646.2,385.4 646.5,384.7 646.7,383.5 646.9,383.4 647.1,384.3 647.3,384.0 647.5,383.7 647.7,384.0 647.9,384.4 648.2,383.6 648.4,382.5 648.6,383.1 648.8,382.4 649.0,382.5 649.2,382.9 649.4,382.5 649.6,382.0 649.8,382.4 650.1,381.9 650.3,382.3 650.5,381.7 650.7,381.9 650.9,381.4 651.1,381.7 651.3,381.1 651.5,381.0 651.8,380.5 652.0,380.6 652.2,379.5 652.4,380.9"/>
<line x1="41.0" y1="476.00" x2="652.8" y2="476.00" stroke="#000" stroke-width="2.4"/>
<g stroke="#9b0f1a" stroke-width="1.1" fill="none">
<line x1="157.5" y1="288.2" x2="157.5" y2="476.0"/>
<polyline points="154.2,295.0 157.5,288.5 160.8,295.0"/>
<polyline points="154.2,469.2 157.5,475.7 160.8,469.2"/>
</g>
<g stroke="#9b0f1a" stroke-width="1.1" fill="none">
<line x1="231.5" y1="323.5" x2="231.5" y2="401.3"/>
<polyline points="228.2,330.3 231.5,323.8 234.8,330.3"/>
<polyline points="228.2,394.5 231.5,401.0 234.8,394.5"/>
</g>
<text class="r" transform="translate(150.6 400.4) rotate(-90)" text-anchor="middle" font-size="16">１％</text>
<text class="r" transform="translate(227.4 361.0) rotate(-90)" text-anchor="middle" font-size="16">０<tspan dy="-0.8">．</tspan><tspan dy="0.8">４％</tspan></text>
<text x="34.4" y="291.3" font-size="8.3" text-anchor="end" textLength="22.9" lengthAdjust="spacingAndGlyphs">10.100</text>
<text x="34.4" y="309.9" font-size="8.3" text-anchor="end" textLength="22.9" lengthAdjust="spacingAndGlyphs">10.090</text>
<text x="34.4" y="328.6" font-size="8.3" text-anchor="end" textLength="22.9" lengthAdjust="spacingAndGlyphs">10.080</text>
<text x="34.4" y="347.5" font-size="8.3" text-anchor="end" textLength="22.9" lengthAdjust="spacingAndGlyphs">10.070</text>
<text x="34.4" y="366.6" font-size="8.3" text-anchor="end" textLength="22.9" lengthAdjust="spacingAndGlyphs">10.060</text>
<text x="34.4" y="385.6" font-size="8.3" text-anchor="end" textLength="22.9" lengthAdjust="spacingAndGlyphs">10.050</text>
<text x="34.4" y="404.5" font-size="8.3" text-anchor="end" textLength="22.9" lengthAdjust="spacingAndGlyphs">10.040</text>
<text x="34.4" y="423.5" font-size="8.3" text-anchor="end" textLength="22.9" lengthAdjust="spacingAndGlyphs">10.030</text>
<text x="34.4" y="442.5" font-size="8.3" text-anchor="end" textLength="22.9" lengthAdjust="spacingAndGlyphs">10.020</text>
<text x="34.4" y="461.6" font-size="8.3" text-anchor="end" textLength="22.9" lengthAdjust="spacingAndGlyphs">10.010</text>
<text x="34.4" y="479.1" font-size="8.3" text-anchor="end" textLength="22.9" lengthAdjust="spacingAndGlyphs">10.000</text>
<text x="11.0" y="282.7" font-size="8.3" textLength="13.4" lengthAdjust="spacingAndGlyphs">mW</text>
<text x="41.6" y="489.9" font-size="8.7" text-anchor="middle">1</text>
<text x="61.5" y="489.9" font-size="8.7" text-anchor="middle" textLength="8.6" lengthAdjust="spacingAndGlyphs">95</text>
<text x="81.5" y="489.9" font-size="8.7" text-anchor="middle" textLength="12.9" lengthAdjust="spacingAndGlyphs">189</text>
<text x="101.4" y="489.9" font-size="8.7" text-anchor="middle" textLength="12.9" lengthAdjust="spacingAndGlyphs">283</text>
<text x="121.4" y="489.9" font-size="8.7" text-anchor="middle" textLength="12.9" lengthAdjust="spacingAndGlyphs">377</text>
<text x="141.3" y="489.9" font-size="8.7" text-anchor="middle" textLength="12.9" lengthAdjust="spacingAndGlyphs">471</text>
<text x="161.3" y="489.9" font-size="8.7" text-anchor="middle" textLength="12.9" lengthAdjust="spacingAndGlyphs">565</text>
<text x="181.2" y="489.9" font-size="8.7" text-anchor="middle" textLength="12.9" lengthAdjust="spacingAndGlyphs">659</text>
<text x="201.2" y="489.9" font-size="8.7" text-anchor="middle" textLength="12.9" lengthAdjust="spacingAndGlyphs">753</text>
<text x="221.1" y="489.9" font-size="8.7" text-anchor="middle" textLength="12.9" lengthAdjust="spacingAndGlyphs">847</text>
<text x="241.1" y="489.9" font-size="8.7" text-anchor="middle" textLength="12.9" lengthAdjust="spacingAndGlyphs">941</text>
<text x="261.1" y="489.9" font-size="8.7" text-anchor="middle" textLength="17.2" lengthAdjust="spacingAndGlyphs">1035</text>
<text x="281.0" y="489.9" font-size="8.7" text-anchor="middle" textLength="17.2" lengthAdjust="spacingAndGlyphs">1129</text>
<text x="300.9" y="489.9" font-size="8.7" text-anchor="middle" textLength="17.2" lengthAdjust="spacingAndGlyphs">1223</text>
<text x="320.9" y="489.9" font-size="8.7" text-anchor="middle" textLength="17.2" lengthAdjust="spacingAndGlyphs">1317</text>
<text x="340.9" y="489.9" font-size="8.7" text-anchor="middle" textLength="17.2" lengthAdjust="spacingAndGlyphs">1411</text>
<text x="360.8" y="489.9" font-size="8.7" text-anchor="middle" textLength="17.2" lengthAdjust="spacingAndGlyphs">1505</text>
<text x="380.8" y="489.9" font-size="8.7" text-anchor="middle" textLength="17.2" lengthAdjust="spacingAndGlyphs">1599</text>
<text x="400.7" y="489.9" font-size="8.7" text-anchor="middle" textLength="17.2" lengthAdjust="spacingAndGlyphs">1693</text>
<text x="420.7" y="489.9" font-size="8.7" text-anchor="middle" textLength="17.2" lengthAdjust="spacingAndGlyphs">1787</text>
<text x="440.6" y="489.9" font-size="8.7" text-anchor="middle" textLength="17.2" lengthAdjust="spacingAndGlyphs">1881</text>
<text x="460.6" y="489.9" font-size="8.7" text-anchor="middle" textLength="17.2" lengthAdjust="spacingAndGlyphs">1975</text>
<text x="480.5" y="489.9" font-size="8.7" text-anchor="middle" textLength="17.2" lengthAdjust="spacingAndGlyphs">2069</text>
<text x="500.4" y="489.9" font-size="8.7" text-anchor="middle" textLength="17.2" lengthAdjust="spacingAndGlyphs">2163</text>
<text x="520.4" y="489.9" font-size="8.7" text-anchor="middle" textLength="17.2" lengthAdjust="spacingAndGlyphs">2257</text>
<text x="540.4" y="489.9" font-size="8.7" text-anchor="middle" textLength="17.2" lengthAdjust="spacingAndGlyphs">2351</text>
<text x="560.3" y="489.9" font-size="8.7" text-anchor="middle" textLength="17.2" lengthAdjust="spacingAndGlyphs">2445</text>
<text x="580.2" y="489.9" font-size="8.7" text-anchor="middle" textLength="17.2" lengthAdjust="spacingAndGlyphs">2539</text>
<text x="600.2" y="489.9" font-size="8.7" text-anchor="middle" textLength="17.2" lengthAdjust="spacingAndGlyphs">2633</text>
<text x="620.1" y="489.9" font-size="8.7" text-anchor="middle" textLength="17.2" lengthAdjust="spacingAndGlyphs">2727</text>
<text x="640.1" y="489.9" font-size="8.7" text-anchor="middle" textLength="17.2" lengthAdjust="spacingAndGlyphs">2821</text>
<text x="228.46" y="19.85" font-size="8.3" textLength="46.69" lengthAdjust="spacingAndGlyphs">850nm10mW</text>
<text x="280.10" y="19.85" font-size="8.3" textLength="16.20" lengthAdjust="spacingAndGlyphs">APC</text>
<text x="301.65" y="19.85" font-size="8.3" textLength="65.92" lengthAdjust="spacingAndGlyphs">no air conditioned</text>
<text x="367.27" y="19.85" font-size="8.3" textLength="14.87" lengthAdjust="spacingAndGlyphs">21.6</text>
<text x="382.84" y="19.85" font-size="8.3" textLength="17.42" lengthAdjust="spacingAndGlyphs"><tspan class="j">→</tspan><tspan class="j">→</tspan></text>
<text x="400.67" y="19.85" font-size="8.3" textLength="14.98" lengthAdjust="spacingAndGlyphs">21.6</text>
<text x="415.57" y="19.85" font-size="8.3" textLength="8.87" lengthAdjust="spacingAndGlyphs"><tspan class="j">℃</tspan></text>
<text x="428.85" y="19.85" font-size="8.3" textLength="49.67" lengthAdjust="spacingAndGlyphs">no temp.cont.</text>
<text x="478.34" y="19.85" font-size="8.3" textLength="10.02" lengthAdjust="spacingAndGlyphs"><tspan class="j">℃</tspan></text>
<text x="494.51" y="19.85" font-size="8.3" textLength="36.82" lengthAdjust="spacingAndGlyphs">04/10/12</text>
<text x="208.96" y="281.85" font-size="8.3" textLength="46.39" lengthAdjust="spacingAndGlyphs">850nm10mW</text>
<text x="260.80" y="281.85" font-size="8.3" textLength="15.89" lengthAdjust="spacingAndGlyphs">APC</text>
<text x="282.65" y="281.85" font-size="8.3" textLength="87.07" lengthAdjust="spacingAndGlyphs">no air conditioned room</text>
<text x="371.57" y="281.85" font-size="8.3" textLength="8.65" lengthAdjust="spacingAndGlyphs">21</text>
<text x="380.27" y="281.85" font-size="8.3" textLength="10.06" lengthAdjust="spacingAndGlyphs"><tspan class="j">→</tspan></text>
<text x="390.17" y="281.85" font-size="8.3" textLength="8.55" lengthAdjust="spacingAndGlyphs">23</text>
<text x="398.92" y="281.85" font-size="8.3" textLength="9.05" lengthAdjust="spacingAndGlyphs"><tspan class="j">→</tspan></text>
<text x="407.59" y="281.85" font-size="8.3" textLength="13.75" lengthAdjust="spacingAndGlyphs">21.8</text>
<text x="422.05" y="281.85" font-size="8.3" textLength="9.44" lengthAdjust="spacingAndGlyphs"><tspan class="j">℃</tspan></text>
<text x="436.15" y="281.85" font-size="8.3" textLength="50.08" lengthAdjust="spacingAndGlyphs">no temp.cont.</text>
<text x="486.07" y="281.85" font-size="8.3" textLength="8.75" lengthAdjust="spacingAndGlyphs"><tspan class="j">℃</tspan></text>
<text x="501.92" y="281.85" font-size="8.3" textLength="36.42" lengthAdjust="spacingAndGlyphs">04/10/12</text>
<text x="297.76" y="241.80" font-size="8.3" textLength="107.31" lengthAdjust="spacingAndGlyphs">0.1sec ea. 2880 times 4.8min.</text>
<text x="298.21" y="505.90" font-size="8.3" textLength="109.56" lengthAdjust="spacingAndGlyphs">15sec ea. 2880 times 12hours</text>
</svg></body></html>
